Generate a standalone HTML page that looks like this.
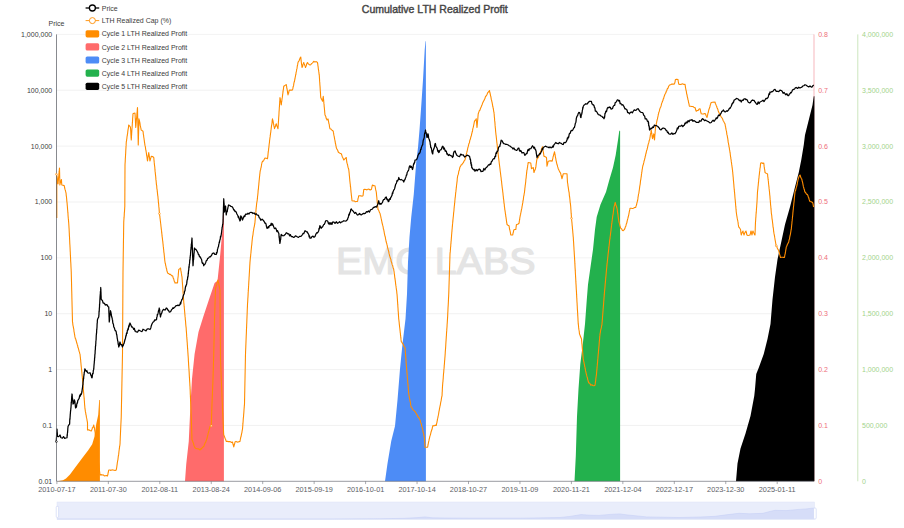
<!DOCTYPE html>
<html><head><meta charset="utf-8"><title>Cumulative LTH Realized Profit</title>
<style>html,body{margin:0;padding:0;background:#fff;}body{width:904px;height:528px;overflow:hidden;}svg{display:block;font-family:"Liberation Sans",sans-serif;}</style>
</head><body>
<svg width="904" height="528" viewBox="0 0 904 528">
<rect width="904" height="528" fill="#fff"/>
<line x1="56.5" x2="814.0" y1="34.40" y2="34.40" stroke="#e9e9e9" stroke-width="0.6"/>
<line x1="56.5" x2="814.0" y1="90.26" y2="90.26" stroke="#e9e9e9" stroke-width="0.6"/>
<line x1="56.5" x2="814.0" y1="146.12" y2="146.12" stroke="#e9e9e9" stroke-width="0.6"/>
<line x1="56.5" x2="814.0" y1="201.99" y2="201.99" stroke="#e9e9e9" stroke-width="0.6"/>
<line x1="56.5" x2="814.0" y1="257.85" y2="257.85" stroke="#e9e9e9" stroke-width="0.6"/>
<line x1="56.5" x2="814.0" y1="313.71" y2="313.71" stroke="#e9e9e9" stroke-width="0.6"/>
<line x1="56.5" x2="814.0" y1="369.57" y2="369.57" stroke="#e9e9e9" stroke-width="0.6"/>
<line x1="56.5" x2="814.0" y1="425.44" y2="425.44" stroke="#e9e9e9" stroke-width="0.6"/>
<text x="435.8" y="273.6" text-anchor="middle" font-size="37.2" fill="#e4e4e4" stroke="#e4e4e4" stroke-width="1.2" stroke-linejoin="round" textLength="199.5" lengthAdjust="spacingAndGlyphs">EMC LABS</text>
<line x1="814.0" x2="814.0" y1="34.4" y2="481.3" stroke="#f29aa2" stroke-width="0.7"/>
<line x1="857.8" x2="857.8" y1="34.4" y2="481.3" stroke="#b0d99a" stroke-width="0.65"/>
<polygon points="57.00,481.30 63.00,480.20 66.00,478.50 70.00,474.40 76.10,466.30 82.10,458.30 88.20,450.30 92.20,444.30 94.60,436.20 96.20,424.20 98.20,415.00 99.20,400.00 99.90,400.00 99.90,481.30" fill="#ff8c00"/>
<polygon points="185.00,481.30 186.25,464.00 188.75,441.50 190.50,404.00 192.00,379.00 194.60,354.00 198.50,332.00 203.20,317.00 209.00,299.50 214.60,283.00 217.50,280.75 220.00,257.00 222.50,229.50 223.50,200.00 223.90,200.00 223.90,481.30" fill="#ff6b6b"/>
<polygon points="385.00,481.30 387.50,463.50 391.25,441.00 395.00,426.00 397.50,400.00 400.00,369.00 402.50,344.00 405.50,319.00 407.00,294.00 408.00,262.00 409.50,237.00 411.25,217.00 413.75,194.50 416.25,162.00 418.00,147.50 419.50,130.00 421.30,105.00 423.00,80.00 424.70,50.00 425.50,41.25 425.90,41.25 425.90,481.30" fill="#4d8cf6"/>
<polygon points="574.50,481.30 575.80,456.00 577.00,416.50 578.50,389.00 580.30,364.00 582.80,344.00 585.00,324.00 586.80,299.50 588.00,284.50 590.50,267.00 593.00,249.50 595.00,229.50 596.70,217.00 600.50,204.50 606.00,192.00 609.30,180.00 613.00,167.50 615.70,155.00 618.00,140.00 619.30,130.75 620.10,130.75 620.10,481.30" fill="#23b14d"/>
<polygon points="736.00,481.30 737.50,463.50 740.50,448.50 745.50,433.50 750.50,416.00 754.25,396.00 755.00,389.00 756.25,374.00 758.75,367.75 763.75,354.00 767.50,339.00 770.50,324.00 772.50,299.50 775.00,277.00 777.50,259.50 781.25,242.00 785.00,224.50 790.00,207.00 793.75,192.00 795.50,185.00 798.75,172.50 801.25,160.00 803.75,145.00 805.00,135.00 807.50,125.00 810.00,115.00 812.50,105.00 813.75,96.25 814.40,96.25 814.40,481.30" fill="#000"/>
<polyline points="56.80,218.00 56.80,216.79 56.80,215.59 56.80,215.13 56.80,213.48 56.80,212.98 56.80,211.78 56.80,210.43 56.80,209.92 56.80,208.39 56.80,207.81 56.80,206.40 56.80,205.41 56.80,204.77 56.80,204.20 56.80,202.41 56.80,201.51 56.80,200.94 56.80,200.28 56.80,198.86 56.80,197.65 56.80,197.28 56.80,195.25 56.80,195.13 56.80,193.49 56.80,192.32 56.80,191.28 56.80,190.48 56.80,190.02 56.80,188.31 56.80,187.74 56.80,186.79 56.80,185.49 56.80,184.67 56.80,183.12 56.80,182.11 56.80,181.26 56.80,180.77 56.80,179.48 56.80,178.34 56.80,177.63 56.80,176.47 56.80,175.29 56.80,174.50 56.93,175.88 57.07,176.83 57.20,177.39 57.33,178.80 57.47,179.81 57.60,181.25 57.73,182.14 57.87,182.71 58.00,184.00 58.09,183.53 58.19,181.58 58.28,180.91 58.38,180.28 58.47,178.62 58.56,177.99 58.66,176.49 58.75,176.19 58.84,175.29 58.94,174.08 59.03,173.41 59.12,171.80 59.22,171.21 59.31,170.10 59.41,169.09 59.50,168.00 59.52,168.95 59.55,170.37 59.57,171.49 59.59,171.97 59.62,173.18 59.64,173.52 59.66,175.22 59.69,176.16 59.71,177.54 59.74,178.35 59.76,178.76 59.78,179.87 59.81,181.19 59.83,181.47 59.85,182.96 59.88,183.63 59.90,185.00 60.20,183.48 60.50,182.31 60.80,182.00 61.10,180.19 61.40,179.50 61.48,180.32 61.56,181.58 61.64,183.21 61.72,183.44 61.80,185.00 63.00,185.24 64.20,185.60 64.44,186.64 64.67,188.00 64.91,188.91 65.15,189.95 65.39,190.29 65.62,191.43 65.86,192.36 66.10,193.50 66.20,194.95 66.30,196.05 66.40,196.19 66.50,197.24 66.60,198.32 66.70,199.35 66.80,200.64 66.90,201.78 67.00,202.45 67.10,203.19 67.20,204.66 67.30,205.63 67.40,206.80 67.48,207.87 67.56,209.30 67.64,210.01 67.72,210.82 67.79,211.93 67.87,212.99 67.95,213.31 68.03,215.24 68.11,216.11 68.19,217.21 68.27,218.13 68.35,218.68 68.43,219.69 68.51,220.36 68.58,221.95 68.66,222.32 68.74,223.32 68.82,224.48 68.90,225.80 68.95,226.44 69.00,227.64 69.06,228.34 69.11,229.29 69.16,230.46 69.21,231.42 69.27,232.72 69.32,233.35 69.37,235.30 69.42,236.02 69.48,236.52 69.53,237.64 69.58,238.76 69.63,239.78 69.69,240.53 69.74,242.34 69.79,243.50 69.84,243.93 69.90,244.96 69.95,245.53 70.00,247.00 70.05,247.56 70.10,248.83 70.15,249.74 70.20,251.36 70.25,251.63 70.30,252.48 70.35,254.50 70.40,255.03 70.45,255.61 70.50,257.05 70.55,257.48 70.60,259.03 70.65,260.53 70.70,261.40 70.75,262.22 70.80,262.74 70.85,263.85 70.90,264.63 70.95,266.30 71.00,267.04 71.05,268.31 71.10,268.81 71.15,269.70 71.20,271.34 71.25,272.00 71.28,273.53 71.30,274.39 71.33,275.34 71.35,276.35 71.38,277.26 71.40,277.70 71.42,279.02 71.45,279.84 71.47,280.48 71.50,281.48 71.53,282.76 71.55,283.74 71.58,285.21 71.60,286.50 71.62,286.94 71.65,288.48 71.67,289.54 71.70,290.50 71.72,290.85 71.75,291.69 71.78,292.70 71.80,293.67 71.83,294.67 71.85,296.14 71.88,297.44 71.90,298.37 71.92,298.98 71.95,300.17 71.97,301.33 72.00,301.54 72.03,303.18 72.05,304.45 72.08,305.31 72.10,306.28 72.12,306.98 72.15,307.65 72.17,309.32 72.20,309.82 72.22,311.33 72.25,312.52 72.28,312.89 72.30,313.89 72.33,315.49 72.35,316.25 72.38,316.64 72.40,317.59 72.42,318.62 72.45,320.45 72.47,321.34 72.50,322.00 72.67,322.61 72.83,324.36 73.00,325.53 73.17,326.17 73.33,326.84 73.50,328.05 73.67,328.59 73.83,329.47 74.00,331.52 74.17,332.16 74.33,333.03 74.50,334.48 74.67,334.93 74.83,336.41 75.00,337.00 75.29,338.36 75.59,338.68 75.88,339.73 76.18,340.77 76.47,341.71 76.76,343.10 77.06,343.74 77.35,344.91 77.65,345.59 77.94,347.45 78.24,347.84 78.53,348.95 78.82,350.09 79.12,351.44 79.41,351.91 79.71,353.46 80.00,354.00 80.10,355.00 80.20,356.04 80.30,357.03 80.40,357.47 80.50,358.93 80.60,359.65 80.70,360.45 80.80,362.33 80.90,362.64 81.00,363.97 81.10,365.25 81.20,366.06 81.30,366.81 81.40,368.02 81.50,369.06 81.60,370.31 81.70,370.57 81.80,372.07 81.90,372.72 82.00,373.75 82.10,375.30 82.20,376.01 82.30,377.07 82.40,378.29 82.50,379.00 82.58,380.45 82.67,380.94 82.75,382.12 82.83,383.01 82.92,384.01 83.00,385.21 83.08,385.95 83.17,387.04 83.25,387.98 83.33,389.49 83.42,390.22 83.50,391.41 83.58,392.49 83.67,392.74 83.75,394.07 83.83,395.49 83.92,396.37 84.00,396.60 84.08,397.58 84.17,398.94 84.25,399.53 84.33,400.71 84.42,401.53 84.50,403.19 84.58,404.31 84.67,405.44 84.75,405.62 84.83,407.24 84.92,408.18 85.00,409.00 85.18,409.59 85.36,411.39 85.54,412.47 85.71,412.63 85.89,414.43 86.07,414.80 86.25,415.89 86.43,417.42 86.61,418.24 86.79,418.48 86.96,419.77 87.14,420.85 87.32,421.64 87.50,422.80 87.50,423.49 87.50,424.66 87.50,426.13 87.50,426.39 87.50,428.00 87.50,428.91 87.50,430.00 88.75,429.80 90.00,430.48 91.25,431.00 91.67,430.14 92.08,429.01 92.50,427.52 92.92,427.53 93.33,426.32 93.75,425.00 93.96,426.60 94.17,426.73 94.38,427.99 94.58,428.83 94.79,430.72 95.00,431.50 95.11,432.28 95.22,433.15 95.33,434.50 95.44,436.06 95.56,436.99 95.67,437.40 95.78,438.31 95.89,440.18 96.00,440.83 96.11,442.00 96.22,442.35 96.33,443.35 96.44,445.07 96.56,445.81 96.67,446.45 96.78,448.43 96.89,449.12 97.00,450.00 97.12,451.33 97.24,451.54 97.36,453.39 97.48,453.52 97.60,455.40 97.72,455.95 97.84,456.82 97.96,458.06 98.08,459.47 98.20,459.74 98.32,460.59 98.44,462.03 98.56,462.71 98.68,463.57 98.80,464.63 98.92,465.51 99.04,466.67 99.16,467.79 99.28,468.79 99.40,470.29 99.52,470.77 99.64,472.00 99.76,472.65 99.88,473.83 100.00,475.00 101.07,474.61 102.14,475.01 103.21,474.90 104.29,475.83 105.36,475.77 106.43,475.52 107.50,476.00 107.71,474.97 107.92,474.48 108.12,472.57 108.33,472.35 108.54,470.93 108.75,470.00 109.82,469.99 110.89,470.37 111.96,469.88 113.04,470.01 114.11,470.21 115.18,470.53 116.25,470.00 116.41,468.83 116.57,468.37 116.73,467.23 116.89,466.15 117.05,464.90 117.20,463.83 117.36,462.51 117.52,461.59 117.68,460.53 117.84,460.26 118.00,459.00 118.13,457.73 118.27,456.63 118.40,455.54 118.53,455.38 118.67,454.41 118.80,453.19 118.93,451.76 119.07,450.72 119.20,449.77 119.33,448.96 119.47,447.62 119.60,446.94 119.73,445.74 119.87,445.51 120.00,444.00 120.05,443.50 120.09,442.01 120.14,440.66 120.19,440.44 120.23,438.70 120.28,437.73 120.32,436.32 120.37,435.72 120.42,434.81 120.46,433.82 120.51,432.47 120.56,431.78 120.60,430.21 120.65,429.48 120.69,428.27 120.74,427.59 120.79,426.18 120.83,425.14 120.88,424.43 120.93,423.34 120.97,422.71 121.02,421.62 121.06,420.85 121.11,419.73 121.16,418.77 121.20,417.94 121.25,416.50 121.27,415.36 121.29,414.28 121.31,413.99 121.33,412.06 121.35,411.68 121.37,410.58 121.39,408.90 121.41,408.76 121.43,407.81 121.45,406.50 121.47,405.61 121.49,404.68 121.51,402.93 121.53,402.34 121.55,401.30 121.57,400.65 121.59,399.61 121.61,398.62 121.64,397.34 121.66,396.66 121.68,395.42 121.70,394.42 121.72,392.89 121.74,391.66 121.76,390.76 121.78,390.00 121.80,388.70 121.82,388.49 121.84,387.17 121.86,386.24 121.88,385.22 121.90,384.27 121.92,383.04 121.94,381.49 121.96,381.35 121.98,380.29 122.00,379.00 122.02,378.00 122.04,377.04 122.06,376.18 122.08,374.52 122.10,374.26 122.12,372.73 122.14,371.53 122.16,370.74 122.18,370.25 122.20,368.68 122.22,368.26 122.24,367.52 122.26,365.99 122.28,364.87 122.30,363.98 122.32,363.20 122.34,362.29 122.36,361.13 122.38,360.16 122.40,358.54 122.42,357.61 122.44,356.73 122.46,356.27 122.48,354.78 122.50,354.00 122.51,353.07 122.51,351.46 122.52,350.52 122.52,349.75 122.53,349.19 122.54,348.21 122.54,347.19 122.55,345.77 122.55,345.02 122.56,343.96 122.57,342.96 122.57,341.58 122.58,341.43 122.59,339.67 122.59,339.53 122.60,338.48 122.60,336.47 122.61,335.95 122.62,335.35 122.62,334.51 122.63,332.94 122.63,331.75 122.64,330.68 122.65,330.49 122.65,328.68 122.66,328.09 122.66,326.61 122.67,326.03 122.68,325.50 122.68,323.60 122.69,323.35 122.70,322.01 122.70,321.43 122.71,320.22 122.71,318.70 122.72,318.44 122.73,316.98 122.73,315.48 122.74,314.45 122.74,313.99 122.75,312.95 122.76,311.78 122.76,310.60 122.77,309.83 122.77,308.80 122.78,308.37 122.79,306.45 122.79,306.28 122.80,305.37 122.80,303.58 122.81,303.47 122.82,302.23 122.82,301.44 122.83,299.77 122.84,298.86 122.84,297.88 122.85,297.55 122.85,296.10 122.86,294.85 122.87,293.92 122.87,292.75 122.88,291.50 122.88,290.56 122.89,290.37 122.90,288.76 122.90,288.48 122.91,286.72 122.91,285.74 122.92,285.01 122.93,283.66 122.93,282.86 122.94,282.50 122.95,281.42 122.95,280.34 122.96,279.14 122.96,278.45 122.97,277.48 122.98,276.05 122.98,275.24 122.99,273.50 122.99,273.26 123.00,272.00 123.02,270.95 123.03,270.28 123.05,269.16 123.06,267.76 123.08,266.50 123.09,266.47 123.11,264.59 123.12,263.97 123.14,262.83 123.15,261.78 123.17,261.26 123.18,260.52 123.19,258.74 123.21,258.17 123.22,256.78 123.24,256.06 123.25,254.88 123.27,253.63 123.28,252.63 123.30,251.68 123.31,251.45 123.33,250.00 123.34,248.69 123.36,248.45 123.38,247.55 123.39,245.94 123.41,244.60 123.42,243.66 123.44,242.55 123.45,241.83 123.47,240.55 123.48,239.71 123.50,238.73 123.51,238.08 123.53,237.43 123.54,236.27 123.56,234.90 123.57,233.91 123.58,233.03 123.60,231.86 123.61,230.82 123.63,229.52 123.64,228.76 123.66,228.51 123.67,226.59 123.69,226.00 123.70,225.14 123.72,224.40 123.73,222.69 123.75,222.00 123.82,220.73 123.89,219.70 123.96,218.85 124.03,217.89 124.10,217.43 124.17,216.30 124.24,215.32 124.31,213.37 124.38,212.37 124.45,212.10 124.52,211.29 124.59,209.81 124.66,208.92 124.73,207.26 124.80,206.80 124.80,205.66 124.81,205.23 124.81,204.10 124.82,203.11 124.82,202.22 124.83,200.41 124.83,199.23 124.84,198.26 124.84,197.65 124.85,196.81 124.85,196.07 124.86,194.81 124.86,193.71 124.87,192.82 124.87,191.46 124.88,190.54 124.88,188.96 124.89,188.76 124.89,187.14 124.90,186.87 124.90,185.55 124.91,184.15 124.91,182.94 124.92,182.06 124.92,181.46 124.93,180.51 124.93,178.85 124.94,177.78 124.94,177.26 124.95,176.31 124.95,175.07 124.96,173.87 124.96,173.27 124.97,171.60 124.97,170.90 124.98,170.05 124.98,169.58 124.99,168.22 124.99,167.46 125.00,165.99 125.00,165.00 125.06,163.69 125.11,162.68 125.17,162.44 125.23,161.13 125.28,159.67 125.34,158.34 125.40,157.84 125.45,157.01 125.51,155.71 125.57,154.51 125.62,153.93 125.68,153.19 125.74,151.40 125.80,150.17 125.85,149.48 125.91,148.55 125.97,147.81 126.02,146.26 126.08,145.89 126.14,144.81 126.19,143.53 126.25,142.50 126.40,141.15 126.54,140.96 126.69,139.20 126.84,138.73 126.99,137.06 127.13,136.02 127.28,135.58 127.43,134.04 127.57,133.73 127.72,132.20 127.87,130.83 128.01,129.84 128.16,129.03 128.31,128.27 128.46,127.55 128.60,125.64 128.75,125.00 129.33,125.72 129.92,126.35 130.50,127.50 130.56,129.06 130.62,129.19 130.69,130.13 130.75,131.18 130.81,132.59 130.88,134.19 130.94,135.21 131.00,136.09 131.06,137.42 131.12,138.39 131.19,138.77 131.25,140.00 131.32,138.64 131.38,138.46 131.45,137.24 131.52,135.45 131.59,135.13 131.65,133.81 131.72,132.79 131.79,131.74 131.86,130.55 131.92,129.36 131.99,128.65 132.06,127.72 132.12,127.38 132.19,125.45 132.26,125.37 132.33,123.52 132.39,122.68 132.46,122.18 132.53,121.17 132.60,119.73 132.66,118.30 132.73,117.76 132.80,116.64 132.87,116.23 132.93,114.42 133.00,113.75 134.00,113.23 135.00,113.00 135.05,114.47 135.11,114.55 135.16,116.01 135.21,117.49 135.27,118.47 135.32,118.71 135.38,119.74 135.43,120.80 135.48,122.78 135.54,123.09 135.59,124.66 135.64,125.87 135.70,126.29 135.75,127.50 135.84,126.25 135.93,126.00 136.01,124.63 136.10,123.24 136.19,122.74 136.28,121.30 136.36,120.25 136.45,118.95 136.54,118.78 136.62,117.96 136.71,116.65 136.80,115.99 136.89,113.98 136.97,113.21 137.06,112.47 137.15,112.00 137.24,111.00 137.32,109.38 137.41,108.23 137.50,107.50 137.52,108.44 137.54,109.52 137.56,111.01 137.58,111.21 137.60,112.90 137.62,113.84 137.64,114.95 137.66,115.91 137.68,116.74 137.70,117.45 137.72,118.45 137.74,119.51 137.76,120.99 137.78,121.23 137.80,122.37 137.82,123.99 137.84,124.45 137.86,125.26 137.89,126.24 137.91,127.83 137.93,128.59 137.95,130.33 137.97,131.23 137.99,132.36 138.01,132.58 138.03,133.39 138.05,134.42 138.07,135.88 138.09,137.12 138.11,137.85 138.13,138.63 138.15,139.84 138.17,141.08 138.19,142.15 138.21,143.25 138.23,144.37 138.25,145.00 138.28,144.17 138.31,142.56 138.34,142.35 138.37,140.73 138.39,140.03 138.42,138.80 138.45,138.19 138.48,136.59 138.51,135.64 138.54,134.62 138.57,133.51 138.60,133.31 138.62,131.96 138.65,130.67 138.68,129.74 138.71,129.39 138.74,127.84 138.77,126.53 138.80,126.16 138.83,124.98 138.86,124.34 138.88,122.35 138.91,121.75 138.94,121.12 138.97,120.13 139.00,118.75 139.20,120.23 139.41,120.29 139.61,121.59 139.82,122.42 140.02,123.52 140.23,125.41 140.43,126.00 140.64,127.41 140.84,127.81 141.05,129.38 141.25,130.00 142.12,130.57 143.00,131.25 143.14,132.01 143.27,133.60 143.41,134.81 143.55,134.91 143.68,136.47 143.82,137.52 143.95,138.10 144.09,139.29 144.23,140.06 144.36,141.15 144.50,142.50 144.68,143.23 144.85,144.61 145.03,145.67 145.20,146.17 145.38,146.96 145.55,148.31 145.72,149.70 145.90,150.15 146.07,151.29 146.25,152.50 146.41,153.24 146.56,154.95 146.72,155.74 146.88,156.27 147.03,157.37 147.19,158.76 147.34,159.99 147.50,161.00 147.66,160.09 147.81,158.43 147.97,157.44 148.12,156.96 148.28,155.59 148.44,154.39 148.59,153.35 148.75,152.50 148.91,154.06 149.06,154.42 149.22,155.76 149.38,156.59 149.53,157.72 149.69,159.28 149.84,160.48 150.00,161.00 150.31,159.66 150.62,158.29 150.94,157.69 151.25,156.25 152.50,156.55 153.75,157.50 153.86,158.03 153.96,160.08 154.07,160.63 154.18,162.14 154.29,162.75 154.39,164.35 154.50,165.00 154.60,165.99 154.71,166.69 154.81,167.55 154.91,169.17 155.01,170.30 155.12,171.63 155.22,171.75 155.32,173.37 155.43,174.12 155.53,175.30 155.63,175.93 155.74,177.11 155.84,178.41 155.94,179.88 156.04,180.01 156.15,181.46 156.25,182.50 156.37,183.84 156.48,185.01 156.60,185.17 156.72,186.09 156.83,187.99 156.95,189.02 157.07,189.48 157.18,190.01 157.30,191.97 157.42,192.38 157.53,193.94 157.65,194.63 157.77,195.86 157.88,196.13 158.00,197.50 158.09,198.83 158.19,199.23 158.28,200.44 158.38,201.94 158.47,202.94 158.56,203.25 158.66,204.30 158.75,205.51 158.84,206.66 158.94,207.53 159.03,208.26 159.12,209.41 159.22,210.95 159.31,212.16 159.41,212.23 159.50,213.75 159.62,214.85 159.75,216.10 159.88,216.34 160.00,218.25 160.12,218.49 160.25,220.05 160.38,221.02 160.50,222.00 160.62,223.17 160.74,223.85 160.85,225.00 160.97,226.21 161.09,227.07 161.21,228.35 161.32,229.15 161.44,230.17 161.56,230.74 161.68,232.42 161.79,233.31 161.91,234.06 162.03,235.67 162.15,236.72 162.26,237.40 162.38,238.12 162.50,239.50 162.61,240.49 162.73,241.11 162.84,242.16 162.95,243.51 163.07,244.16 163.18,245.57 163.30,246.67 163.41,247.18 163.52,248.85 163.64,249.27 163.75,251.01 163.86,252.08 163.98,252.81 164.09,253.33 164.20,254.85 164.32,255.73 164.43,257.38 164.55,257.51 164.66,259.32 164.77,260.50 164.89,261.23 165.00,262.00 165.23,263.35 165.45,263.66 165.68,265.53 165.91,265.99 166.14,267.50 166.36,268.46 166.59,268.63 166.82,270.32 167.05,271.47 167.27,271.52 167.50,273.00 168.50,273.39 169.50,274.38 170.50,274.27 171.50,275.64 172.50,275.75 172.86,276.54 173.21,278.17 173.57,278.47 173.93,279.90 174.29,281.39 174.64,281.64 175.00,283.00 176.25,282.74 177.50,283.00 177.60,281.97 177.69,280.72 177.79,279.38 177.88,278.50 177.98,277.44 178.08,277.25 178.17,275.93 178.27,275.13 178.37,273.29 178.46,272.93 178.56,271.15 178.65,270.57 178.75,269.50 179.62,268.90 180.50,268.00 180.67,268.85 180.83,270.41 181.00,271.06 181.17,272.09 181.33,273.42 181.50,273.57 181.67,275.54 181.83,276.14 182.00,277.00 182.07,277.88 182.14,279.33 182.21,279.74 182.28,281.54 182.35,282.09 182.42,282.85 182.49,284.29 182.56,284.94 182.63,285.64 182.70,287.27 182.77,287.50 182.84,289.35 182.91,289.73 182.98,291.15 183.05,292.53 183.12,293.09 183.19,294.18 183.26,294.79 183.33,295.45 183.40,296.49 183.47,297.61 183.54,299.13 183.61,299.93 183.68,301.01 183.75,302.00 183.84,303.45 183.94,303.63 184.03,304.76 184.12,306.24 184.21,306.57 184.31,307.56 184.40,308.97 184.49,309.72 184.58,311.01 184.68,311.88 184.77,313.30 184.86,314.32 184.95,314.92 185.05,316.40 185.14,317.25 185.23,317.89 185.32,319.80 185.42,320.05 185.51,320.97 185.60,321.93 185.69,323.54 185.79,324.82 185.88,325.74 185.97,326.34 186.06,327.20 186.16,327.94 186.25,329.50 186.32,330.68 186.40,331.61 186.47,332.40 186.54,333.74 186.61,334.54 186.69,336.11 186.76,336.90 186.83,337.39 186.91,339.13 186.98,339.21 187.05,340.76 187.12,341.65 187.20,342.48 187.27,343.31 187.34,345.12 187.42,345.30 187.49,346.91 187.56,348.36 187.64,348.50 187.71,349.59 187.78,351.06 187.85,351.97 187.93,353.13 188.00,354.00 188.06,355.36 188.12,355.67 188.19,356.84 188.25,357.84 188.31,358.58 188.38,360.52 188.44,361.42 188.50,362.36 188.56,362.60 188.62,364.54 188.69,365.44 188.75,366.15 188.81,367.47 188.88,368.17 188.94,368.93 189.00,369.82 189.06,370.97 189.12,371.77 189.19,373.12 189.25,374.59 189.31,375.54 189.38,376.72 189.44,377.59 189.50,378.12 189.56,379.45 189.62,380.34 189.69,381.74 189.75,382.46 189.81,383.19 189.88,384.62 189.94,386.00 190.00,386.50 190.04,387.19 190.08,388.92 190.12,388.97 190.17,390.24 190.21,391.21 190.25,392.77 190.29,393.99 190.33,394.77 190.38,395.31 190.42,396.92 190.46,397.31 190.50,398.21 190.54,399.95 190.58,400.64 190.62,401.71 190.67,402.68 190.71,404.03 190.75,404.47 190.79,405.87 190.83,406.72 190.88,407.89 190.92,408.43 190.96,409.75 191.00,410.58 191.04,411.29 191.08,412.18 191.12,413.63 191.17,414.04 191.21,415.95 191.25,416.50 191.28,417.13 191.32,418.02 191.35,419.13 191.38,421.06 191.41,421.44 191.45,422.24 191.48,423.13 191.51,424.17 191.54,425.91 191.58,426.86 191.61,427.96 191.64,429.02 191.67,429.30 191.71,430.90 191.74,431.68 191.77,433.20 191.80,434.22 191.84,435.32 191.87,435.44 191.90,437.34 191.93,438.41 191.97,439.47 192.00,440.00 192.38,440.54 192.75,441.61 193.12,442.48 193.50,443.36 193.88,445.23 194.25,446.16 194.62,446.93 195.00,447.75 196.00,448.56 197.00,448.79 198.00,448.87 199.00,449.11 200.00,450.00 200.75,448.86 201.50,448.88 202.25,447.58 203.00,447.00 203.75,446.50 204.14,445.49 204.54,444.12 204.93,443.45 205.32,442.55 205.71,442.09 206.11,440.78 206.50,440.00 206.77,438.76 207.04,438.43 207.31,436.89 207.58,436.23 207.85,434.94 208.12,433.25 208.38,432.63 208.65,431.62 208.92,430.95 209.19,429.45 209.46,428.80 209.73,427.58 210.00,426.50 211.25,425.50 211.29,424.16 211.32,423.85 211.36,421.98 211.39,421.76 211.43,420.02 211.46,418.81 211.50,418.01 211.54,417.60 211.57,416.81 211.61,414.72 211.64,414.23 211.68,413.20 211.71,412.52 211.75,410.82 211.79,410.14 211.82,408.95 211.86,408.46 211.89,406.81 211.93,406.54 211.96,404.79 212.00,404.00 212.04,402.69 212.08,402.22 212.12,401.00 212.16,399.57 212.20,399.15 212.24,397.54 212.28,397.32 212.32,396.22 212.36,395.32 212.40,394.14 212.44,392.84 212.48,391.89 212.52,390.88 212.56,390.43 212.60,388.54 212.64,388.43 212.68,386.48 212.72,385.68 212.76,384.74 212.80,384.44 212.84,383.00 212.88,381.87 212.92,381.42 212.96,379.71 213.00,379.00 213.03,377.96 213.06,377.03 213.09,376.28 213.12,375.28 213.15,374.16 213.18,372.83 213.21,371.81 213.24,370.62 213.27,370.38 213.30,369.18 213.33,368.27 213.36,366.64 213.39,365.93 213.42,365.30 213.45,364.09 213.48,362.59 213.51,361.96 213.54,361.42 213.57,359.71 213.60,358.66 213.63,357.78 213.66,357.22 213.69,356.38 213.72,354.62 213.75,354.00 213.77,352.62 213.79,351.72 213.82,350.81 213.84,350.02 213.86,348.63 213.88,347.81 213.90,346.66 213.93,346.52 213.95,345.25 213.97,343.56 213.99,343.51 214.01,341.56 214.04,340.87 214.06,340.53 214.08,339.32 214.10,338.26 214.12,336.93 214.15,335.67 214.17,335.15 214.19,333.57 214.21,332.68 214.24,331.88 214.26,330.49 214.28,329.89 214.30,329.32 214.32,328.21 214.35,327.00 214.37,326.15 214.39,324.96 214.41,323.61 214.43,323.11 214.46,321.90 214.48,321.27 214.50,320.00 214.53,319.43 214.56,317.89 214.60,317.03 214.63,316.21 214.66,314.83 214.69,313.60 214.73,313.13 214.76,312.29 214.79,311.16 214.82,310.06 214.85,309.21 214.89,308.00 214.92,306.95 214.95,305.72 214.98,304.55 215.02,303.88 215.05,302.28 215.08,301.62 215.11,301.00 215.15,299.91 215.18,298.80 215.21,297.37 215.24,296.54 215.27,295.56 215.31,294.73 215.34,293.48 215.37,292.76 215.40,292.02 215.44,290.18 215.47,289.69 215.50,288.50 215.81,287.74 216.12,286.25 216.44,285.30 216.75,284.77 217.06,282.68 217.38,282.17 217.69,280.69 218.00,280.00 218.20,281.31 218.40,282.48 218.60,283.02 218.80,283.56 219.00,285.08 219.20,286.05 219.40,287.24 219.60,288.01 219.80,289.15 220.00,290.00 220.01,291.36 220.01,292.02 220.02,292.90 220.03,294.49 220.04,294.68 220.04,296.20 220.05,296.88 220.06,298.29 220.06,298.58 220.07,300.53 220.08,300.84 220.09,301.51 220.09,302.75 220.10,303.89 220.11,304.46 220.11,305.91 220.12,306.91 220.13,308.22 220.14,308.84 220.14,309.74 220.15,310.70 220.16,312.27 220.16,313.48 220.17,314.03 220.18,314.69 220.19,316.33 220.19,316.88 220.20,317.68 220.21,318.59 220.21,320.30 220.22,321.34 220.23,322.15 220.24,322.97 220.24,324.07 220.25,324.70 220.26,326.51 220.26,326.84 220.27,328.15 220.28,329.35 220.29,330.35 220.29,330.96 220.30,331.77 220.31,333.05 220.31,333.59 220.32,335.37 220.33,335.84 220.34,337.39 220.34,337.74 220.35,338.86 220.36,339.73 220.36,340.92 220.37,341.65 220.38,342.45 220.39,344.24 220.39,344.76 220.40,345.72 220.41,346.78 220.41,347.98 220.42,348.92 220.43,350.15 220.44,351.18 220.44,351.85 220.45,353.47 220.46,354.39 220.46,354.51 220.47,356.36 220.48,357.45 220.49,358.31 220.49,358.60 220.50,360.00 220.54,361.36 220.58,362.15 220.62,362.47 220.67,363.46 220.71,365.50 220.75,366.17 220.79,366.73 220.83,367.56 220.88,368.61 220.92,369.71 220.96,371.30 221.00,371.83 221.04,372.62 221.08,374.44 221.12,375.32 221.17,375.63 221.21,377.43 221.25,378.12 221.29,379.31 221.33,380.19 221.38,381.43 221.42,382.32 221.46,383.37 221.50,383.67 221.54,385.21 221.58,386.03 221.62,387.27 221.67,387.93 221.71,389.42 221.75,390.06 221.79,390.74 221.83,391.71 221.88,392.60 221.92,393.99 221.96,394.51 222.00,395.96 222.04,396.61 222.08,397.99 222.12,399.00 222.17,400.04 222.21,401.40 222.25,401.46 222.29,403.37 222.33,403.96 222.38,405.07 222.42,406.18 222.46,407.37 222.50,407.86 222.54,408.91 222.58,410.51 222.62,410.53 222.67,412.15 222.71,413.15 222.75,413.48 222.79,415.12 222.83,416.20 222.88,417.47 222.92,417.81 222.96,419.53 223.00,420.00 223.05,421.07 223.10,422.10 223.15,423.61 223.20,423.72 223.25,425.53 223.30,426.48 223.35,427.22 223.40,428.86 223.45,429.37 223.50,430.54 223.55,431.66 223.60,432.98 223.65,433.42 223.70,434.80 224.09,435.67 224.47,436.60 224.86,437.69 225.24,438.93 225.63,439.29 226.01,440.82 226.40,441.40 227.42,441.39 228.43,441.60 229.45,441.45 230.47,441.81 231.48,442.42 232.50,442.00 232.75,443.17 233.00,444.32 233.25,444.81 233.50,445.80 233.75,447.00 234.00,445.78 234.25,445.10 234.50,444.15 234.75,443.31 235.00,442.00 236.00,441.39 237.00,442.04 238.00,442.12 239.00,441.65 240.00,441.50 240.21,439.96 240.42,439.20 240.62,437.83 240.83,436.99 241.04,436.76 241.25,435.37 241.46,434.38 241.67,433.48 241.88,432.58 242.08,431.21 242.29,430.17 242.50,429.00 242.58,428.14 242.66,427.22 242.74,426.11 242.82,425.20 242.90,423.68 242.98,423.18 243.06,421.95 243.14,421.29 243.22,419.56 243.30,418.65 243.38,417.49 243.46,417.30 243.54,416.46 243.62,415.17 243.70,413.86 243.78,413.35 243.86,412.32 243.94,411.07 244.02,409.73 244.10,408.78 244.18,407.91 244.26,406.80 244.34,405.92 244.42,405.16 244.50,404.00 244.52,403.48 244.54,401.51 244.56,401.07 244.58,399.49 244.60,398.58 244.62,398.34 244.64,397.08 244.66,396.46 244.68,394.94 244.70,393.47 244.72,392.88 244.74,392.10 244.76,391.48 244.78,390.53 244.80,388.97 244.82,387.90 244.84,386.56 244.86,386.16 244.88,384.68 244.90,383.62 244.92,382.47 244.94,381.46 244.96,381.20 244.98,379.58 245.00,379.51 245.02,377.55 245.04,377.41 245.06,375.59 245.08,374.47 245.10,374.24 245.12,372.72 245.14,372.26 245.16,370.66 245.18,369.51 245.20,369.30 245.22,368.23 245.24,367.39 245.26,366.25 245.28,364.54 245.30,364.14 245.32,363.23 245.34,361.96 245.36,361.48 245.38,359.73 245.40,359.51 245.42,358.24 245.44,356.46 245.46,355.47 245.48,355.17 245.50,354.00 245.54,353.34 245.58,351.52 245.62,350.76 245.66,350.21 245.70,348.58 245.74,348.34 245.79,346.91 245.83,345.43 245.87,344.76 245.91,343.98 245.95,342.82 245.99,342.07 246.03,340.48 246.07,340.18 246.11,338.70 246.15,338.00 246.19,336.97 246.23,335.73 246.28,334.68 246.32,334.11 246.36,333.28 246.40,332.09 246.44,330.84 246.48,329.53 246.52,328.26 246.56,328.26 246.60,326.95 246.64,326.07 246.68,324.52 246.72,323.81 246.77,323.21 246.81,322.04 246.85,320.77 246.89,319.44 246.93,318.56 246.97,318.06 247.01,316.49 247.05,315.82 247.09,314.71 247.13,314.03 247.17,312.92 247.21,311.33 247.26,310.01 247.30,309.29 247.34,308.46 247.38,307.63 247.42,306.87 247.46,305.94 247.50,304.50 247.56,302.98 247.62,302.84 247.68,301.81 247.74,300.86 247.80,299.52 247.86,298.18 247.92,297.80 247.98,296.74 248.04,295.60 248.10,294.84 248.15,293.20 248.21,291.90 248.27,291.40 248.33,290.66 248.39,288.99 248.45,288.58 248.51,287.77 248.57,285.99 248.63,285.39 248.69,284.46 248.75,283.21 248.81,281.92 248.87,280.96 248.93,280.49 248.99,279.52 249.05,278.15 249.11,276.73 249.17,276.50 249.23,275.45 249.29,273.85 249.35,273.22 249.40,272.56 249.46,271.53 249.52,270.12 249.58,269.06 249.64,268.17 249.70,266.72 249.76,265.71 249.82,264.68 249.88,264.24 249.94,262.86 250.00,262.00 250.10,261.07 250.20,259.89 250.30,259.02 250.40,257.61 250.50,256.50 250.60,256.55 250.70,254.86 250.80,253.57 250.90,253.15 251.00,252.32 251.10,250.62 251.20,250.11 251.30,248.83 251.40,248.02 251.50,246.47 251.60,245.49 251.70,245.54 251.80,244.40 251.90,242.98 252.00,242.07 252.10,240.74 252.20,240.31 252.30,238.92 252.40,238.49 252.50,237.00 252.67,236.29 252.83,235.35 253.00,234.51 253.17,232.73 253.33,231.49 253.50,230.67 253.67,229.65 253.83,228.54 254.00,227.51 254.17,227.06 254.33,226.41 254.50,224.95 254.67,224.49 254.83,223.45 255.00,222.00 255.08,220.52 255.17,220.11 255.25,218.89 255.33,217.58 255.42,217.51 255.50,215.73 255.58,215.07 255.67,214.15 255.75,213.50 255.83,212.19 255.92,210.88 256.00,209.94 256.08,208.63 256.17,208.51 256.25,207.00 256.39,206.49 256.53,204.58 256.67,203.33 256.81,202.51 256.94,201.56 257.08,201.11 257.22,200.06 257.36,198.93 257.50,197.50 257.60,196.00 257.70,195.82 257.80,194.73 257.90,193.66 258.00,193.03 258.10,191.01 258.20,190.11 258.30,189.78 258.40,188.98 258.50,187.69 258.60,186.28 258.70,185.60 258.80,184.78 258.90,183.07 259.00,182.31 259.10,181.23 259.20,180.09 259.30,179.48 259.40,178.14 259.50,177.21 259.60,176.11 259.70,175.70 259.80,173.96 259.90,173.74 260.00,172.50 260.20,171.16 260.40,169.99 260.60,169.97 260.80,168.19 261.00,167.98 261.20,166.90 261.40,165.93 261.60,164.10 261.80,163.44 262.00,162.50 262.60,161.16 263.20,161.17 263.80,160.18 264.40,159.04 265.00,158.00 266.25,158.32 267.50,158.75 267.62,157.56 267.74,157.08 267.86,155.69 267.98,154.84 268.10,153.30 268.21,152.37 268.33,151.18 268.45,150.89 268.57,149.70 268.69,148.24 268.81,148.03 268.93,146.35 269.05,145.50 269.17,144.20 269.29,143.32 269.40,142.93 269.52,141.37 269.64,140.17 269.76,139.51 269.88,138.31 270.00,137.50 270.14,136.90 270.28,134.99 270.42,134.90 270.56,132.85 270.69,132.73 270.83,131.44 270.97,129.89 271.11,129.14 271.25,127.89 271.39,126.82 271.53,125.71 271.67,124.85 271.81,124.50 271.94,123.46 272.08,122.34 272.22,120.39 272.36,119.56 272.50,118.75 272.70,120.19 272.90,120.26 273.10,122.00 273.30,122.52 273.50,124.28 273.70,124.22 273.90,126.09 274.10,126.57 274.30,127.35 274.50,128.75 274.85,127.20 275.20,127.12 275.55,125.78 275.90,124.40 276.25,123.75 276.60,124.68 276.95,126.20 277.30,126.44 277.65,127.83 278.00,128.75 278.06,127.34 278.13,126.38 278.19,126.02 278.26,124.95 278.32,123.38 278.39,122.24 278.45,121.24 278.52,120.80 278.58,119.67 278.65,118.42 278.71,117.34 278.77,116.78 278.84,115.87 278.90,114.98 278.97,113.72 279.03,112.29 279.10,111.14 279.16,110.86 279.23,109.50 279.29,108.83 279.35,107.09 279.42,106.91 279.48,105.38 279.55,104.93 279.61,103.95 279.68,102.53 279.74,101.00 279.81,100.98 279.87,99.49 279.94,98.92 280.00,97.50 280.18,98.31 280.36,99.30 280.54,101.08 280.71,101.64 280.89,102.49 281.07,103.79 281.25,105.00 281.39,104.06 281.53,102.37 281.67,101.90 281.81,100.77 281.94,99.81 282.08,98.33 282.22,97.94 282.36,97.01 282.50,96.03 282.64,94.39 282.78,93.77 282.92,92.37 283.06,91.73 283.19,89.93 283.33,89.79 283.47,88.83 283.61,87.29 283.75,86.25 284.58,85.68 285.42,85.12 286.25,84.50 286.43,85.59 286.60,86.07 286.77,88.16 286.95,88.40 287.12,89.40 287.30,90.36 287.48,91.58 287.65,93.25 287.82,93.43 288.00,95.00 288.30,93.56 288.60,93.22 288.90,91.66 289.20,90.47 289.50,90.00 290.50,90.11 291.50,90.08 292.50,90.00 292.73,89.00 292.95,88.18 293.18,86.49 293.41,86.32 293.64,85.13 293.86,83.36 294.09,82.43 294.32,81.81 294.55,80.80 294.77,79.53 295.00,78.75 295.19,77.32 295.38,76.61 295.56,75.30 295.75,74.79 295.94,74.07 296.12,72.27 296.31,71.72 296.50,70.90 296.69,69.24 296.88,68.95 297.06,68.06 297.25,66.44 297.44,65.46 297.62,64.90 297.81,63.54 298.00,62.50 298.46,61.47 298.92,61.15 299.38,60.05 299.83,58.66 300.29,57.63 300.75,57.00 300.88,57.87 301.00,59.03 301.12,60.68 301.25,61.53 301.38,62.70 301.50,63.65 301.62,64.73 301.75,64.91 301.88,66.47 302.00,67.50 302.35,67.00 302.70,65.98 303.05,64.22 303.40,63.41 303.75,62.50 304.10,63.65 304.45,64.35 304.80,65.53 305.15,66.03 305.50,67.50 305.90,66.43 306.30,65.51 306.70,63.97 307.10,63.10 307.50,62.50 308.33,63.85 309.17,64.47 310.00,65.00 310.75,64.73 311.50,63.65 312.25,63.09 313.00,62.42 313.75,61.25 315.00,62.09 316.25,61.57 317.50,62.50 317.65,63.70 317.79,64.33 317.94,65.82 318.08,66.42 318.23,67.75 318.38,69.22 318.52,69.93 318.67,70.56 318.81,71.90 318.96,72.84 319.10,74.45 319.25,75.00 319.32,75.79 319.39,76.83 319.45,78.23 319.52,78.67 319.59,80.22 319.66,81.64 319.73,82.17 319.80,82.93 319.86,84.17 319.93,85.26 320.00,85.86 320.07,86.86 320.14,87.89 320.20,89.09 320.27,90.24 320.34,91.13 320.41,92.10 320.48,92.96 320.55,94.48 320.61,95.83 320.68,96.60 320.75,97.50 321.19,98.51 321.62,99.54 322.06,99.98 322.50,101.25 322.65,100.48 322.80,99.21 322.95,98.30 323.10,97.37 323.25,96.25 323.35,97.26 323.44,98.12 323.54,99.09 323.64,100.11 323.74,101.47 323.83,102.37 323.93,103.64 324.03,104.05 324.12,105.46 324.22,107.06 324.32,107.42 324.42,108.81 324.51,109.78 324.61,110.60 324.71,112.41 324.81,112.69 324.90,114.26 325.00,115.00 325.40,115.62 325.80,116.52 326.20,118.41 326.60,118.93 327.00,120.00 328.00,119.00 328.22,119.60 328.44,121.04 328.67,122.18 328.89,123.59 329.11,123.99 329.33,125.20 329.56,127.09 329.78,127.93 330.00,128.75 330.81,128.99 331.62,129.82 332.44,130.46 333.25,131.25 333.44,132.46 333.62,133.41 333.81,134.68 334.00,135.67 334.19,136.35 334.38,137.61 334.56,138.63 334.75,139.66 334.94,140.36 335.12,141.72 335.31,142.65 335.50,143.89 335.69,144.04 335.88,145.88 336.06,145.94 336.25,147.50 336.75,148.79 337.25,149.59 337.75,150.50 338.25,152.01 338.75,152.50 340.00,153.20 341.25,153.75 341.67,154.70 342.08,156.15 342.50,157.29 342.92,158.03 343.33,158.83 343.75,160.00 344.58,159.11 345.42,158.29 346.25,157.50 346.38,158.87 346.50,159.52 346.62,160.75 346.75,162.00 347.04,163.13 347.32,164.02 347.61,165.02 347.89,166.60 348.18,167.74 348.46,168.43 348.75,169.50 348.85,170.48 348.96,171.24 349.06,172.41 349.17,173.28 349.27,174.79 349.38,175.84 349.48,176.34 349.58,178.30 349.69,178.68 349.79,180.29 349.90,181.33 350.00,182.00 350.11,183.55 350.22,183.76 350.33,185.04 350.44,186.62 350.56,186.67 350.67,187.75 350.78,189.36 350.89,190.33 351.00,191.84 351.11,192.72 351.22,193.50 351.33,195.05 351.44,195.56 351.56,196.60 351.67,197.83 351.78,198.55 351.89,199.55 352.00,200.75 353.10,201.00 354.20,200.89 355.30,201.69 356.40,201.54 357.50,201.50 357.75,200.38 358.00,198.76 358.25,197.91 358.50,196.79 358.75,195.75 359.81,195.82 360.88,195.83 361.94,196.17 363.00,195.75 363.12,195.22 363.25,193.65 363.38,192.56 363.50,191.72 363.62,191.09 363.75,189.50 364.82,189.33 365.89,189.53 366.96,189.85 368.04,189.14 369.11,189.30 370.18,190.03 371.25,189.50 371.56,188.73 371.88,187.26 372.19,185.70 372.50,185.00 373.75,185.81 375.00,185.75 375.21,187.00 375.42,188.19 375.62,189.41 375.83,190.34 376.04,190.87 376.25,192.00 376.35,192.65 376.46,193.83 376.56,195.10 376.66,196.12 376.76,196.80 376.87,197.83 376.97,199.35 377.07,200.35 377.18,201.10 377.28,202.84 377.38,203.47 377.49,203.85 377.59,205.28 377.69,206.73 377.79,207.23 377.90,208.68 378.00,209.50 378.50,209.89 379.00,211.16 379.50,212.69 380.00,213.25 380.23,214.37 380.45,215.48 380.68,215.98 380.91,217.34 381.14,218.42 381.36,219.13 381.59,220.57 381.82,221.47 382.05,223.00 382.27,223.56 382.50,224.50 382.72,225.43 382.94,226.14 383.16,227.21 383.38,228.90 383.60,229.21 383.82,230.24 384.04,231.34 384.26,232.76 384.49,234.12 384.71,234.92 384.93,236.16 385.15,236.37 385.37,237.35 385.59,239.21 385.81,239.75 386.03,241.21 386.25,242.00 386.50,242.84 386.75,243.64 387.00,244.74 387.25,245.56 387.50,247.44 387.75,248.09 388.00,248.83 388.25,249.94 388.50,250.87 388.75,251.51 389.00,253.43 389.25,254.09 389.50,255.51 389.75,255.93 390.00,257.00 390.29,258.09 390.58,258.65 390.87,259.38 391.15,261.32 391.44,262.20 391.73,262.57 392.02,264.17 392.31,265.04 392.60,265.44 392.88,266.73 393.17,268.08 393.46,268.53 393.75,269.50 393.89,271.02 394.02,271.26 394.16,272.44 394.29,273.82 394.43,274.30 394.56,275.42 394.70,277.06 394.83,277.65 394.97,279.01 395.10,279.43 395.24,280.37 395.38,281.59 395.51,282.43 395.65,284.31 395.78,284.58 395.92,285.90 396.05,286.43 396.19,287.91 396.32,288.77 396.46,289.81 396.59,290.46 396.73,291.54 396.86,293.34 397.00,294.00 397.07,294.84 397.14,295.72 397.21,296.66 397.28,297.76 397.35,298.71 397.42,299.49 397.49,301.18 397.56,301.83 397.63,302.62 397.70,304.23 397.77,304.55 397.84,305.75 397.91,307.37 397.98,307.59 398.05,308.94 398.12,310.37 398.19,311.34 398.26,311.63 398.33,312.84 398.40,314.24 398.47,314.86 398.54,316.50 398.61,316.68 398.68,318.50 398.75,319.00 398.86,320.03 398.98,320.75 399.09,322.02 399.20,322.68 399.32,324.34 399.43,324.87 399.55,326.60 399.66,327.28 399.77,328.06 399.89,328.95 400.00,330.37 400.11,330.96 400.23,332.71 400.34,332.90 400.45,334.36 400.57,335.41 400.68,336.13 400.80,337.71 400.91,338.31 401.02,339.63 401.14,340.55 401.25,341.50 401.79,342.18 402.32,343.16 402.86,343.72 403.39,344.72 403.93,346.35 404.46,346.66 405.00,347.75 405.08,348.94 405.16,349.35 405.23,350.87 405.31,351.66 405.39,352.83 405.47,353.62 405.55,354.38 405.62,355.67 405.70,356.59 405.78,357.49 405.86,359.16 405.94,359.70 406.02,360.85 406.09,362.42 406.17,363.29 406.25,364.00 406.33,365.42 406.42,366.40 406.50,366.60 406.58,367.75 406.67,368.48 406.75,370.20 406.83,371.18 406.92,371.84 407.00,372.90 407.08,374.17 407.17,375.22 407.25,375.72 407.33,377.38 407.42,377.84 407.50,379.14 407.58,379.65 407.67,380.58 407.75,382.45 407.83,383.26 407.92,384.23 408.00,384.49 408.08,385.49 408.17,386.63 408.25,387.67 408.33,388.78 408.42,389.87 408.50,390.49 408.58,391.79 408.67,393.15 408.75,394.00 408.94,394.69 409.13,396.45 409.33,397.19 409.52,398.39 409.71,398.92 409.90,400.16 410.10,401.47 410.29,402.14 410.48,402.80 410.67,404.75 410.87,405.73 411.06,406.23 411.25,407.50 411.96,407.85 412.68,409.60 413.39,410.19 414.11,410.43 414.82,411.50 415.54,412.22 416.25,413.50 416.79,414.71 417.32,414.97 417.86,416.63 418.39,417.35 418.93,417.51 419.46,419.07 420.00,419.75 420.28,420.61 420.56,421.97 420.83,423.03 421.11,423.40 421.39,424.16 421.67,426.07 421.94,426.47 422.22,428.00 422.50,428.50 422.70,429.71 422.90,430.76 423.10,431.86 423.30,432.64 423.50,433.45 423.70,434.01 423.90,435.72 424.10,436.42 424.30,437.51 424.50,438.50 424.56,440.06 424.62,440.28 424.69,442.07 424.75,442.37 424.81,444.19 424.88,445.40 424.94,445.89 425.00,447.25 426.25,447.30 427.50,447.25 427.73,446.74 427.95,445.36 428.18,444.23 428.41,442.88 428.64,441.65 428.86,440.96 429.09,439.99 429.32,438.74 429.55,437.84 429.77,436.62 430.00,436.00 430.30,435.18 430.60,434.09 430.90,432.56 431.20,431.52 431.50,430.77 431.80,429.64 432.10,429.13 432.40,427.44 432.70,426.33 433.00,425.50 434.08,425.92 435.17,425.11 436.25,425.50 436.46,424.53 436.67,423.23 436.88,422.72 437.08,421.39 437.29,420.58 437.50,418.89 437.71,418.39 437.92,417.28 438.12,416.08 438.33,415.38 438.54,414.41 438.75,413.00 438.94,411.58 439.13,410.77 439.32,409.85 439.51,408.68 439.71,407.52 439.90,406.76 440.09,405.67 440.28,405.22 440.47,403.94 440.66,402.57 440.85,401.81 441.04,400.97 441.24,399.85 441.43,398.63 441.62,397.53 441.81,396.46 442.00,396.00 442.06,395.49 442.11,394.16 442.17,392.38 442.22,392.02 442.28,391.25 442.33,389.74 442.39,388.18 442.44,387.54 442.50,386.50 442.58,385.43 442.67,384.16 442.75,383.55 442.83,381.96 442.92,381.96 443.00,380.66 443.08,379.64 443.17,378.98 443.25,377.67 443.33,376.23 443.42,375.22 443.50,374.10 443.58,372.98 443.67,372.80 443.75,371.87 443.83,370.28 443.92,369.15 444.00,368.65 444.08,367.88 444.17,366.97 444.25,365.14 444.33,364.81 444.42,363.86 444.50,362.77 444.58,361.31 444.67,360.15 444.75,359.86 444.83,358.30 444.92,357.36 445.00,356.50 445.07,355.54 445.14,354.33 445.20,353.82 445.27,352.16 445.34,350.93 445.41,350.49 445.47,349.55 445.54,348.74 445.61,347.60 445.68,346.81 445.74,345.84 445.81,344.33 445.88,343.32 445.95,341.93 446.01,341.08 446.08,340.37 446.15,338.81 446.22,338.46 446.28,336.87 446.35,336.17 446.42,335.73 446.49,333.75 446.55,332.68 446.62,332.11 446.69,330.82 446.76,330.39 446.82,328.59 446.89,328.50 446.96,327.50 447.03,326.41 447.09,325.00 447.16,323.83 447.23,323.23 447.30,322.06 447.36,320.94 447.43,319.84 447.50,319.00 447.55,317.93 447.60,317.18 447.65,316.36 447.70,315.44 447.75,313.63 447.80,312.78 447.85,311.94 447.90,311.07 447.95,309.83 448.00,308.66 448.05,307.54 448.10,306.81 448.15,305.96 448.20,305.52 448.25,304.45 448.30,303.40 448.35,302.52 448.40,301.51 448.45,300.13 448.50,299.34 448.55,297.52 448.60,297.19 448.65,296.12 448.70,294.78 448.75,294.00 448.78,293.07 448.81,292.47 448.85,290.94 448.88,290.11 448.91,288.72 448.94,287.75 448.97,287.33 449.01,285.38 449.04,284.54 449.07,284.07 449.10,282.80 449.13,281.39 449.17,281.01 449.20,279.68 449.23,278.90 449.26,277.70 449.29,276.82 449.33,275.84 449.36,274.64 449.39,273.32 449.42,272.38 449.46,272.15 449.49,270.76 449.52,269.27 449.55,269.08 449.58,267.40 449.62,266.21 449.65,265.67 449.68,264.35 449.71,263.60 449.74,262.66 449.78,261.29 449.81,260.66 449.84,259.14 449.87,258.57 449.90,257.64 449.94,256.06 449.97,255.41 450.00,254.50 450.08,253.03 450.17,252.43 450.25,251.90 450.33,250.56 450.42,249.74 450.50,248.78 450.58,247.08 450.67,247.04 450.75,245.74 450.83,244.06 450.92,243.86 451.00,242.38 451.08,241.14 451.17,241.01 451.25,239.57 451.33,238.80 451.42,237.10 451.50,236.80 451.58,235.01 451.67,234.21 451.75,233.36 451.83,231.97 451.92,231.60 452.00,230.18 452.08,229.28 452.17,228.73 452.25,227.42 452.33,226.93 452.42,225.63 452.50,224.50 452.60,223.91 452.70,222.57 452.80,221.96 452.90,220.91 453.00,219.13 453.10,218.77 453.20,217.33 453.30,216.79 453.40,215.70 453.50,214.86 453.60,213.08 453.70,212.36 453.80,211.76 453.90,210.99 454.00,209.74 454.10,208.00 454.20,207.61 454.30,206.06 454.40,205.55 454.50,204.83 454.60,203.07 454.70,202.97 454.80,201.69 454.90,200.23 455.00,199.50 455.11,198.14 455.23,197.40 455.34,196.80 455.45,195.50 455.57,193.96 455.68,192.84 455.80,191.91 455.91,191.65 456.02,189.95 456.14,189.33 456.25,188.02 456.36,187.43 456.48,186.07 456.59,184.79 456.70,184.57 456.82,183.18 456.93,182.32 457.05,181.43 457.16,180.56 457.27,178.51 457.39,177.85 457.50,177.00 457.75,175.62 458.00,175.00 458.25,174.41 458.50,173.33 458.75,171.49 459.00,170.65 459.25,170.35 459.50,169.20 459.75,167.88 460.00,167.00 460.62,166.10 461.25,164.87 461.88,164.75 462.50,163.38 463.12,163.04 463.75,161.87 464.38,160.41 465.00,160.00 465.24,158.83 465.47,157.72 465.71,157.49 465.94,156.17 466.18,154.59 466.41,153.74 466.65,152.97 466.89,152.11 467.12,151.25 467.36,150.06 467.59,149.04 467.83,147.67 468.06,147.32 468.30,146.25 468.59,145.04 468.88,143.68 469.17,143.14 469.46,142.69 469.75,140.64 470.05,139.72 470.34,139.28 470.63,137.82 470.92,136.80 471.21,136.02 471.50,135.00 471.71,133.76 471.93,133.11 472.14,132.08 472.36,131.57 472.57,130.63 472.79,128.59 473.00,128.19 473.21,127.44 473.43,126.57 473.64,125.48 473.86,124.34 474.07,123.36 474.29,122.08 474.50,121.25 475.08,120.18 475.67,119.91 476.25,118.75 476.34,120.25 476.44,121.42 476.53,122.23 476.62,122.91 476.72,124.51 476.81,125.58 476.91,126.42 477.00,127.50 477.10,126.59 477.19,125.22 477.29,124.38 477.38,123.17 477.48,121.73 477.58,120.97 477.67,119.90 477.77,119.58 477.87,117.96 477.96,116.78 478.06,115.58 478.15,114.52 478.25,113.75 478.67,112.61 479.08,111.40 479.50,110.29 479.92,110.27 480.33,108.84 480.75,107.86 481.17,107.02 481.58,105.75 482.00,105.00 482.42,103.66 482.83,102.58 483.25,101.86 483.67,100.90 484.08,100.39 484.50,99.22 484.92,98.68 485.33,97.05 485.75,96.25 486.38,95.76 487.00,94.43 487.62,92.91 488.25,92.06 488.88,91.55 489.50,90.50 489.72,92.09 489.94,92.45 490.17,93.97 490.39,94.64 490.61,96.18 490.83,96.36 491.06,97.87 491.28,99.38 491.50,100.00 491.71,100.80 491.92,101.82 492.12,102.60 492.33,103.80 492.54,104.95 492.75,106.47 492.96,106.98 493.17,108.22 493.38,109.05 493.58,110.53 493.79,111.86 494.00,112.50 494.09,113.66 494.18,114.17 494.26,115.76 494.35,117.01 494.44,117.61 494.52,118.04 494.61,119.84 494.70,120.91 494.79,121.33 494.88,122.10 494.96,123.16 495.05,124.54 495.14,125.91 495.23,126.65 495.31,127.97 495.40,128.18 495.49,129.31 495.57,130.77 495.66,131.66 495.75,132.50 495.86,133.42 495.98,134.74 496.09,135.39 496.20,136.10 496.32,137.52 496.43,138.14 496.55,139.80 496.66,140.50 496.77,141.70 496.89,142.83 497.00,143.48 497.11,144.73 497.23,145.26 497.34,147.29 497.45,147.91 497.57,149.40 497.68,149.40 497.80,151.03 497.91,152.18 498.02,152.77 498.14,153.53 498.25,155.00 498.38,155.62 498.50,156.61 498.62,158.29 498.75,158.55 498.88,160.35 499.00,160.92 499.12,162.04 499.25,163.10 499.38,164.06 499.50,165.17 499.62,166.11 499.75,166.81 499.88,168.27 500.00,168.73 500.12,170.23 500.25,171.29 500.38,172.30 500.50,172.79 500.62,174.30 500.75,175.00 500.87,176.53 500.99,176.95 501.10,177.76 501.22,179.03 501.34,180.49 501.46,180.60 501.57,181.46 501.69,182.97 501.81,184.17 501.93,185.30 502.04,185.85 502.16,187.54 502.28,187.70 502.40,189.28 502.51,189.55 502.63,190.48 502.75,192.00 502.87,192.60 502.98,193.52 503.10,195.00 503.22,196.06 503.33,196.65 503.45,198.48 503.57,198.85 503.68,199.61 503.80,200.65 503.92,202.26 504.03,203.46 504.15,203.63 504.27,204.48 504.38,206.31 504.50,207.00 504.65,207.75 504.79,209.59 504.94,210.09 505.09,211.27 505.24,211.98 505.38,213.51 505.53,214.16 505.68,215.04 505.82,216.71 505.97,216.86 506.12,218.58 506.26,218.87 506.41,220.54 506.56,221.30 506.71,222.84 506.85,222.99 507.00,224.50 508.00,225.20 509.00,225.75 509.20,226.65 509.40,228.21 509.60,229.24 509.80,229.89 510.00,230.75 510.19,231.51 510.38,232.60 510.56,233.68 510.75,235.00 511.75,234.93 512.75,235.00 512.95,233.70 513.15,232.67 513.35,232.29 513.55,231.16 513.75,230.00 514.75,229.53 515.75,229.50 515.90,229.04 516.05,227.19 516.20,226.58 516.35,225.12 516.50,224.50 517.75,224.27 519.00,223.25 519.17,222.61 519.33,220.91 519.50,220.40 519.67,219.44 519.83,217.80 520.00,217.00 520.20,215.81 520.40,214.98 520.60,214.43 520.80,212.63 521.00,212.20 521.20,211.11 521.40,209.95 521.60,209.09 521.80,208.42 522.00,207.00 522.17,205.68 522.33,205.42 522.50,203.85 522.67,203.31 522.83,202.40 523.00,200.65 523.17,200.40 523.33,199.54 523.50,197.78 523.67,196.48 523.83,195.57 524.00,195.52 524.17,193.46 524.33,193.45 524.50,192.00 524.61,190.62 524.73,190.26 524.84,188.56 524.95,187.64 525.07,187.20 525.18,185.55 525.30,184.82 525.41,184.46 525.52,183.24 525.64,182.42 525.75,181.53 525.86,179.49 525.98,178.71 526.09,178.32 526.20,177.21 526.32,175.49 526.43,175.01 526.55,173.70 526.66,172.92 526.77,171.57 526.89,170.47 527.00,170.00 527.18,169.47 527.36,167.66 527.54,167.20 527.71,165.30 527.89,164.63 528.07,163.17 528.25,162.50 529.50,162.67 530.75,163.00 530.90,163.80 531.05,165.50 531.20,166.06 531.35,167.86 531.50,168.75 532.38,168.13 533.25,167.50 533.40,168.07 533.55,169.34 533.70,170.50 533.85,171.96 534.00,172.50 534.35,171.33 534.70,170.19 535.05,170.01 535.40,168.92 535.75,167.50 535.91,166.66 536.06,165.06 536.22,163.86 536.38,162.87 536.53,161.56 536.69,160.44 536.84,159.85 537.00,158.75 538.25,157.50 538.67,156.36 539.08,155.48 539.50,154.22 539.92,152.79 540.33,152.50 540.75,151.25 541.19,150.29 541.62,149.05 542.06,147.93 542.50,146.75 542.67,148.01 542.83,149.39 543.00,150.33 543.17,151.21 543.33,151.92 543.50,152.88 543.67,154.05 543.83,155.71 544.00,156.25 545.25,156.75 546.50,157.50 546.56,158.47 546.62,159.59 546.69,160.39 546.75,162.42 546.81,162.42 546.88,164.18 546.94,165.63 547.00,166.25 547.25,164.98 547.50,164.37 547.75,163.11 548.00,161.96 548.25,161.25 549.50,160.92 550.75,160.83 552.00,161.25 552.28,160.57 552.56,159.45 552.83,158.53 553.11,156.53 553.39,156.19 553.67,154.72 553.94,154.02 554.22,152.86 554.50,151.75 554.70,152.62 554.90,154.42 555.10,154.43 555.30,156.32 555.50,157.51 555.70,158.21 555.90,159.38 556.10,160.89 556.30,161.13 556.50,162.50 556.79,163.68 557.08,164.85 557.38,165.49 557.67,166.90 557.96,167.59 558.25,168.75 558.75,169.78 559.25,170.87 559.75,171.94 560.25,172.55 560.75,173.75 561.00,174.89 561.25,175.80 561.50,176.45 561.75,177.87 562.00,178.75 562.25,177.49 562.50,177.20 562.75,175.72 563.00,174.99 563.25,173.75 564.50,173.77 565.75,173.72 567.00,173.75 567.06,174.54 567.12,175.54 567.19,177.50 567.25,178.16 567.31,179.25 567.38,180.34 567.44,181.75 567.50,182.50 567.67,183.27 567.83,184.25 568.00,186.02 568.17,186.68 568.33,187.93 568.50,189.19 568.67,190.32 568.83,191.35 569.00,192.00 569.12,192.50 569.23,193.87 569.35,195.37 569.47,196.35 569.58,196.59 569.70,197.62 569.82,198.73 569.93,199.56 570.05,200.84 570.17,202.33 570.28,203.02 570.40,203.95 570.52,204.55 570.63,205.89 570.75,207.00 570.82,208.57 570.89,209.26 570.95,210.01 571.02,211.07 571.09,212.44 571.16,213.42 571.23,213.77 571.30,215.38 571.36,216.06 571.43,217.25 571.50,218.25 571.60,219.00 571.69,220.19 571.79,221.20 571.89,222.29 571.99,222.93 572.08,224.17 572.18,225.62 572.28,226.10 572.38,227.27 572.47,228.91 572.57,229.46 572.67,230.56 572.76,231.51 572.86,233.20 572.96,233.43 573.06,235.07 573.15,236.35 573.25,237.00 573.31,237.67 573.38,238.92 573.44,240.32 573.50,241.13 573.56,241.86 573.62,242.50 573.69,243.94 573.75,244.85 573.81,246.23 573.88,246.77 573.94,247.90 574.00,249.16 574.06,250.34 574.12,250.84 574.19,251.87 574.25,253.09 574.31,254.47 574.38,254.66 574.44,256.52 574.50,257.00 574.56,258.26 574.61,258.91 574.67,260.25 574.73,260.90 574.78,261.64 574.84,263.42 574.90,264.03 574.95,265.21 575.01,266.20 575.07,267.67 575.12,268.53 575.18,268.75 575.24,270.40 575.30,271.28 575.35,272.30 575.41,273.74 575.47,274.29 575.52,275.38 575.58,276.86 575.64,277.39 575.69,278.47 575.75,279.50 575.81,280.54 575.86,281.90 575.92,282.76 575.98,283.86 576.03,284.51 576.09,285.13 576.15,286.86 576.20,287.74 576.26,289.00 576.32,290.02 576.38,290.33 576.43,291.47 576.49,292.33 576.55,294.17 576.60,294.40 576.66,295.41 576.72,297.17 576.77,297.98 576.83,298.44 576.89,300.15 576.94,301.21 577.00,302.00 577.06,302.98 577.11,303.51 577.17,305.21 577.23,305.91 577.28,307.09 577.34,308.55 577.40,309.35 577.45,310.41 577.51,310.61 577.57,311.82 577.62,313.02 577.68,313.46 577.74,315.54 577.80,315.75 577.85,316.74 577.91,317.79 577.97,318.73 578.02,320.39 578.08,321.06 578.14,322.01 578.19,322.91 578.25,324.00 578.38,324.51 578.50,325.78 578.62,327.40 578.75,328.33 578.88,329.39 579.00,329.73 579.12,330.67 579.25,331.51 579.38,333.04 579.50,334.00 579.90,334.86 580.30,335.96 580.70,336.99 581.10,338.09 581.50,339.00 581.59,339.85 581.67,341.33 581.76,341.67 581.85,343.46 581.94,344.06 582.02,344.51 582.11,345.80 582.20,347.04 582.29,347.90 582.38,349.07 582.46,349.81 582.55,350.75 582.64,352.33 582.73,352.77 582.81,354.23 582.90,355.33 582.99,356.10 583.08,356.95 583.16,358.48 583.25,359.00 583.46,359.98 583.67,361.50 583.88,361.64 584.08,363.09 584.29,364.36 584.50,364.75 584.71,366.69 584.92,366.86 585.12,368.48 585.33,369.06 585.54,370.92 585.75,371.50 586.00,372.57 586.25,373.83 586.50,374.50 586.75,375.69 587.00,376.69 587.25,377.27 587.50,378.18 587.75,379.87 588.00,380.11 588.25,381.50 588.88,382.90 589.50,383.05 590.12,383.87 590.75,385.25 591.81,384.80 592.88,385.56 593.94,385.75 595.00,385.25 595.14,384.13 595.27,383.38 595.41,381.92 595.55,381.61 595.68,380.34 595.82,378.73 595.95,377.60 596.09,377.28 596.23,375.54 596.36,375.39 596.50,374.00 596.59,372.77 596.67,371.71 596.76,371.09 596.85,369.80 596.94,369.07 597.02,367.62 597.11,367.45 597.20,365.81 597.29,365.38 597.38,363.62 597.46,363.33 597.55,362.53 597.64,360.88 597.73,359.49 597.81,358.87 597.90,358.15 597.99,356.70 598.08,356.05 598.16,354.55 598.25,354.00 598.34,352.96 598.42,352.25 598.51,350.92 598.60,350.20 598.69,348.58 598.77,348.36 598.86,346.58 598.95,346.47 599.04,345.55 599.12,344.48 599.21,343.03 599.30,341.77 599.39,340.83 599.48,340.28 599.56,339.00 599.65,338.47 599.74,336.55 599.83,335.98 599.91,335.40 600.00,334.00 600.20,333.11 600.40,332.04 600.60,330.55 600.80,329.60 601.00,328.75 601.20,328.43 601.40,327.38 601.60,325.70 601.80,325.47 602.00,324.00 602.08,322.49 602.16,322.11 602.23,321.51 602.31,319.83 602.39,319.49 602.47,318.17 602.55,316.51 602.62,315.82 602.70,314.94 602.78,313.72 602.86,313.27 602.94,311.65 603.02,311.32 603.09,309.78 603.17,308.53 603.25,308.07 603.33,306.56 603.41,306.06 603.48,305.32 603.56,304.11 603.64,302.96 603.72,301.49 603.80,301.01 603.88,299.56 603.95,299.16 604.03,297.60 604.11,297.09 604.19,295.84 604.27,294.86 604.34,294.18 604.42,292.63 604.50,292.00 604.59,290.62 604.69,290.45 604.78,288.76 604.87,288.30 604.96,287.32 605.06,285.87 605.15,284.48 605.24,283.41 605.33,283.25 605.43,281.39 605.52,280.79 605.61,279.82 605.70,278.34 605.80,277.71 605.89,276.35 605.98,275.74 606.07,274.69 606.17,273.52 606.26,272.32 606.35,271.52 606.44,270.28 606.54,269.18 606.63,268.29 606.72,267.96 606.81,266.54 606.91,265.95 607.00,264.50 607.11,262.94 607.23,262.94 607.34,261.42 607.45,260.73 607.57,259.46 607.68,258.57 607.80,257.04 607.91,256.59 608.02,254.91 608.14,254.01 608.25,252.73 608.36,252.11 608.48,251.22 608.59,249.95 608.70,249.59 608.82,247.68 608.93,247.20 609.05,245.80 609.16,245.17 609.27,244.36 609.39,243.25 609.50,242.00 609.62,240.52 609.75,239.72 609.88,239.11 610.00,238.53 610.12,236.50 610.25,236.13 610.38,235.21 610.50,234.35 610.62,232.83 610.75,232.34 610.88,230.96 611.00,230.46 611.12,228.46 611.25,228.48 611.38,226.90 611.50,225.90 611.62,224.55 611.75,223.72 611.88,223.26 612.00,222.00 612.13,221.20 612.27,219.62 612.40,218.83 612.53,217.60 612.67,216.67 612.80,215.69 612.93,214.81 613.07,214.52 613.20,213.55 613.33,212.32 613.47,210.98 613.60,210.00 613.73,209.31 613.87,208.45 614.00,207.00 614.31,206.15 614.62,204.90 614.94,203.29 615.25,202.50 615.54,203.60 615.83,204.80 616.12,205.69 616.42,205.88 616.71,207.53 617.00,208.25 617.15,209.14 617.31,209.99 617.46,211.94 617.62,212.67 617.77,213.81 617.92,214.19 618.08,216.02 618.23,217.19 618.38,218.21 618.54,219.10 618.69,220.25 618.85,221.27 619.00,222.00 619.29,223.14 619.58,224.01 619.88,225.48 620.17,226.48 620.46,227.62 620.75,228.25 621.58,228.86 622.42,230.42 623.25,230.75 623.83,229.95 624.42,229.57 625.00,228.25 625.33,226.79 625.67,226.68 626.00,225.44 626.33,223.81 626.67,223.41 627.00,222.00 627.25,220.71 627.50,219.67 627.75,218.95 628.00,217.71 628.25,217.00 628.47,215.90 628.69,215.26 628.91,213.92 629.12,212.86 629.34,211.41 629.56,210.75 629.78,209.67 630.00,208.25 631.15,208.30 632.30,208.44 633.45,208.16 634.60,207.55 635.75,207.50 636.04,205.92 636.33,205.42 636.62,204.49 636.92,202.82 637.21,201.98 637.50,200.75 637.69,200.03 637.88,198.88 638.06,196.92 638.25,196.36 638.44,194.75 638.62,193.76 638.81,193.44 639.00,192.00 639.14,190.91 639.29,190.12 639.43,188.95 639.57,187.82 639.71,186.69 639.86,185.84 640.00,185.00 640.15,184.35 640.29,183.07 640.44,181.68 640.59,180.43 640.74,179.60 640.88,179.04 641.03,177.73 641.18,176.94 641.32,176.07 641.47,174.29 641.62,173.88 641.76,172.14 641.91,171.97 642.06,170.24 642.21,169.31 642.35,169.03 642.50,167.50 642.75,166.35 643.00,165.20 643.25,164.93 643.50,163.62 643.75,162.93 644.00,161.38 644.25,160.50 644.50,160.00 644.75,158.51 645.00,158.04 645.25,156.16 645.50,155.86 645.75,154.13 646.00,153.53 646.25,152.50 646.50,150.95 646.75,150.14 647.00,149.99 647.25,148.45 647.50,147.84 647.75,146.23 648.00,145.34 648.25,144.06 648.50,143.56 648.75,142.90 649.00,141.52 649.25,140.36 649.50,139.97 649.75,138.93 650.00,137.50 650.18,136.61 650.36,134.89 650.54,134.42 650.71,133.15 650.89,132.65 651.07,130.92 651.25,130.00 651.41,131.27 651.56,132.33 651.72,133.14 651.88,134.40 652.03,135.66 652.19,137.01 652.34,137.65 652.50,138.75 652.75,137.60 653.00,137.27 653.25,135.26 653.50,135.12 653.75,133.75 653.88,134.99 654.00,135.90 654.12,136.82 654.25,138.19 654.38,139.39 654.50,140.00 654.58,139.21 654.67,138.19 654.75,136.36 654.83,135.64 654.92,134.39 655.00,134.25 655.08,133.14 655.17,131.28 655.25,130.72 655.33,129.67 655.42,128.04 655.50,127.50 655.72,126.38 655.93,125.77 656.15,124.66 656.37,123.26 656.58,122.79 656.80,121.27 657.02,120.55 657.23,119.41 657.45,119.03 657.67,117.66 657.88,116.84 658.10,115.69 658.32,114.37 658.53,114.01 658.75,112.50 659.09,111.71 659.43,110.66 659.77,109.19 660.11,108.04 660.45,107.47 660.80,106.72 661.14,105.66 661.48,104.15 661.82,102.90 662.16,102.29 662.50,101.25 662.88,100.67 663.25,98.88 663.62,98.51 664.00,96.89 664.38,96.04 664.75,94.76 665.12,94.03 665.50,93.12 665.88,92.76 666.25,91.25 666.71,90.87 667.18,89.12 667.64,88.36 668.11,88.17 668.57,86.45 669.04,85.70 669.50,85.00 670.50,84.73 671.50,84.17 672.50,84.14 673.50,84.08 674.50,84.00 674.75,82.75 675.00,82.26 675.25,80.37 675.50,79.50 676.75,79.17 678.00,79.50 678.19,81.14 678.38,81.82 678.56,83.43 678.75,84.25 679.79,84.40 680.83,84.56 681.88,84.05 682.92,83.87 683.96,84.53 685.00,84.25 685.19,85.34 685.38,86.56 685.56,87.81 685.75,88.75 685.97,90.12 686.19,90.69 686.41,91.88 686.62,93.58 686.84,94.25 687.06,95.08 687.28,96.55 687.50,97.50 687.75,98.33 688.00,99.99 688.25,100.28 688.50,102.23 688.75,103.04 689.00,103.90 689.25,105.64 689.50,106.25 690.60,106.24 691.70,106.47 692.80,106.53 693.90,107.30 695.00,107.50 695.42,109.03 695.83,110.20 696.25,111.25 697.19,110.53 698.12,110.34 699.06,108.95 700.00,108.75 700.25,109.54 700.50,110.91 700.75,112.26 701.00,112.90 701.25,113.75 702.31,113.96 703.38,114.05 704.44,113.63 705.50,113.75 705.88,115.17 706.25,115.89 706.62,116.39 707.00,117.50 707.25,116.31 707.50,115.69 707.75,114.12 708.00,112.87 708.25,112.55 708.50,111.11 708.75,110.00 709.11,108.95 709.46,108.04 709.82,107.23 710.18,105.31 710.54,104.47 710.89,103.09 711.25,102.50 712.50,102.24 713.75,102.17 715.00,102.00 715.40,103.49 715.80,104.38 716.20,105.39 716.60,106.29 717.00,107.50 717.42,108.62 717.83,109.33 718.25,111.00 718.67,111.98 719.08,113.08 719.50,113.75 720.10,114.37 720.70,115.94 721.30,117.03 721.90,117.75 722.50,118.75 723.00,120.19 723.50,121.19 724.00,122.02 724.50,123.10 725.00,123.75 725.19,124.97 725.38,126.28 725.58,126.52 725.77,128.21 725.96,129.26 726.15,130.22 726.35,130.91 726.54,131.74 726.73,133.38 726.92,134.68 727.12,135.13 727.31,136.13 727.50,137.50 727.67,138.20 727.83,139.05 728.00,140.69 728.17,142.02 728.33,142.83 728.50,143.35 728.67,144.72 728.83,145.03 729.00,146.87 729.17,147.31 729.33,147.95 729.50,149.64 729.67,150.10 729.83,151.25 730.00,152.50 730.15,153.04 730.29,154.50 730.44,155.65 730.59,156.96 730.74,157.14 730.88,159.04 731.03,159.28 731.18,160.43 731.32,161.91 731.47,162.62 731.62,163.64 731.76,164.93 731.91,165.57 732.06,167.23 732.21,167.62 732.35,169.34 732.50,170.00 732.59,171.34 732.68,172.04 732.77,172.48 732.86,174.31 732.95,174.48 733.05,176.01 733.14,176.92 733.23,177.52 733.32,179.14 733.41,180.25 733.50,181.09 733.59,181.89 733.68,183.01 733.77,184.10 733.86,184.70 733.95,186.40 734.05,187.55 734.14,188.33 734.23,189.51 734.32,189.81 734.41,191.53 734.50,192.00 734.59,192.53 734.67,193.98 734.76,194.60 734.85,195.95 734.94,197.20 735.02,198.23 735.11,198.95 735.20,199.83 735.29,200.66 735.38,201.89 735.46,202.76 735.55,203.66 735.64,205.26 735.73,206.02 735.81,206.93 735.90,207.67 735.99,209.22 736.08,209.67 736.16,210.74 736.25,212.00 736.42,213.07 736.58,214.22 736.75,215.52 736.92,216.27 737.08,217.49 737.25,218.46 737.42,219.24 737.58,220.24 737.75,220.52 737.92,221.68 738.08,222.46 738.25,224.40 738.42,225.24 738.58,226.14 738.75,227.00 739.33,227.57 739.92,228.51 740.50,229.50 740.65,230.23 740.80,231.85 740.95,233.34 741.10,233.69 741.25,235.00 741.69,233.50 742.12,232.64 742.56,231.84 743.00,231.00 743.25,232.44 743.50,233.33 743.75,233.95 744.00,235.00 744.50,233.56 745.00,232.57 745.50,231.62 746.00,231.00 746.25,232.31 746.50,232.97 746.75,234.54 747.00,235.00 748.00,235.45 749.00,235.32 750.00,235.00 750.25,233.97 750.50,233.35 750.75,231.59 751.00,231.00 751.25,231.57 751.50,233.07 751.75,234.01 752.00,235.00 752.25,233.68 752.50,232.73 752.75,231.47 753.00,231.00 753.50,232.45 754.00,233.23 754.50,234.49 755.00,235.00 755.04,234.53 755.08,232.93 755.12,232.26 755.15,230.87 755.19,230.34 755.23,229.38 755.27,227.60 755.31,226.46 755.35,225.69 755.38,225.09 755.42,223.87 755.46,222.46 755.50,222.00 755.58,221.36 755.65,220.31 755.73,218.96 755.80,217.50 755.88,217.43 755.95,216.04 756.02,214.53 756.10,213.81 756.17,213.14 756.25,212.42 756.33,210.98 756.40,210.15 756.48,208.68 756.55,207.72 756.62,207.45 756.70,205.87 756.77,204.56 756.85,204.10 756.92,202.59 757.00,202.00 757.05,200.67 757.10,199.95 757.15,199.09 757.20,198.15 757.25,197.23 757.30,195.93 757.35,194.52 757.40,194.25 757.45,192.51 757.50,192.00 757.61,190.94 757.71,189.84 757.82,189.11 757.92,188.13 758.03,186.58 758.13,186.01 758.24,185.03 758.34,183.76 758.45,182.37 758.55,182.19 758.66,180.82 758.76,179.20 758.87,178.37 758.97,178.17 759.08,176.31 759.18,175.46 759.29,174.87 759.39,173.88 759.50,172.50 759.64,171.59 759.78,170.65 759.92,168.83 760.06,167.83 760.19,167.75 760.33,166.50 760.47,164.60 760.61,163.56 760.75,163.00 761.75,162.71 762.75,163.47 763.75,163.00 763.89,163.75 764.03,165.30 764.17,166.64 764.31,167.37 764.44,168.74 764.58,169.07 764.72,170.01 764.86,170.91 765.00,172.50 766.25,173.41 767.50,173.75 767.61,174.34 767.73,176.32 767.84,177.05 767.95,177.50 768.07,179.20 768.18,179.52 768.30,180.92 768.41,181.50 768.52,183.27 768.64,184.41 768.75,185.00 768.86,186.46 768.96,186.45 769.07,188.39 769.18,189.06 769.29,190.35 769.39,191.00 769.50,192.00 769.59,193.13 769.67,194.10 769.76,195.33 769.85,195.54 769.94,196.51 770.02,198.05 770.11,198.77 770.20,199.89 770.29,200.46 770.38,202.27 770.46,202.48 770.55,204.36 770.64,205.34 770.73,205.95 770.81,206.58 770.90,208.17 770.99,208.68 771.08,209.92 771.16,210.57 771.25,212.00 771.38,213.52 771.50,214.05 771.62,214.84 771.75,215.55 771.88,217.25 772.00,218.38 772.12,219.38 772.25,219.56 772.38,220.85 772.50,221.78 772.62,223.29 772.75,223.61 772.88,225.12 773.00,226.53 773.12,227.30 773.25,227.46 773.38,228.53 773.50,229.58 773.62,231.21 773.75,232.00 773.94,233.17 774.13,234.14 774.33,235.12 774.52,236.13 774.71,237.41 774.90,238.51 775.10,239.86 775.29,240.72 775.48,241.85 775.67,243.03 775.87,244.01 776.06,244.93 776.25,245.75 776.75,246.23 777.25,247.95 777.75,249.13 778.25,249.67 778.75,250.75 779.04,252.29 779.33,252.65 779.62,254.61 779.92,255.19 780.21,256.60 780.50,257.50 781.50,257.23 782.50,257.28 783.50,257.33 784.50,257.50 784.67,256.26 784.85,254.95 785.02,254.29 785.20,253.83 785.38,252.42 785.55,251.68 785.73,250.44 785.90,249.47 786.08,248.59 786.25,247.00 786.75,246.28 787.25,244.75 787.75,243.72 788.25,242.90 788.75,242.00 788.96,240.43 789.17,239.62 789.38,239.30 789.58,238.30 789.79,236.60 790.00,236.05 790.21,235.01 790.42,234.10 790.62,232.95 790.83,231.62 791.04,230.11 791.25,229.50 791.35,228.83 791.46,227.24 791.56,226.55 791.66,225.24 791.76,224.39 791.87,223.84 791.97,221.92 792.07,221.30 792.18,220.40 792.28,219.25 792.38,218.66 792.49,217.05 792.59,216.57 792.69,215.30 792.79,214.57 792.90,212.58 793.00,212.00 793.10,210.68 793.20,209.77 793.30,209.45 793.40,207.46 793.50,206.74 793.60,206.24 793.70,205.54 793.80,203.64 793.90,202.93 794.00,202.21 794.10,201.21 794.20,200.27 794.30,199.28 794.40,197.72 794.50,197.00 794.60,195.73 794.70,194.48 794.80,194.21 794.90,192.68 795.00,192.00 795.29,190.74 795.57,190.51 795.86,189.16 796.14,188.10 796.43,187.17 796.71,186.11 797.00,185.00 797.21,184.21 797.43,182.78 797.64,181.52 797.86,180.52 798.07,179.47 798.29,178.85 798.50,178.00 799.00,176.61 799.50,175.57 800.00,175.00 800.40,175.99 800.80,177.52 801.20,178.21 801.60,178.75 802.00,180.00 802.21,181.30 802.43,181.65 802.64,182.56 802.86,183.78 803.07,184.90 803.29,186.21 803.50,187.00 803.80,187.94 804.10,189.25 804.40,189.55 804.70,191.48 805.00,192.00 805.75,192.76 806.50,194.24 807.25,194.30 808.00,195.75 808.33,197.07 808.67,197.37 809.00,199.02 809.33,199.92 809.67,200.73 810.00,201.50 811.25,201.76 812.50,202.50 812.81,203.09 813.12,204.41 813.44,206.32 813.75,207.00" fill="none" stroke="#ff8c00" stroke-width="1.1" stroke-linejoin="round"/>
<polyline points="56.25,441.50 56.31,439.78 56.38,439.53 56.44,438.04 56.50,437.60 56.56,436.62 56.62,434.12 56.69,432.94 56.75,434.04 56.81,431.50 56.88,430.39 56.94,431.33 57.00,429.00 57.07,429.99 57.14,432.02 57.21,432.15 57.29,433.65 57.36,433.45 57.43,435.78 57.50,436.50 58.75,436.71 60.00,435.00 60.42,435.98 60.83,437.46 61.25,437.75 62.40,438.20 63.55,436.62 64.70,438.42 65.85,437.99 67.00,437.75 67.09,436.21 67.18,434.49 67.27,435.63 67.36,433.59 67.45,433.21 67.55,432.60 67.64,431.15 67.73,430.66 67.82,428.27 67.91,428.31 68.00,426.50 68.75,425.11 69.50,424.00 69.58,424.13 69.67,422.99 69.75,419.95 69.83,419.05 69.92,418.26 70.00,419.21 70.08,416.83 70.17,416.33 70.25,414.48 70.33,414.02 70.42,412.70 70.50,411.61 70.58,411.22 70.67,410.22 70.75,410.05 70.83,408.47 70.92,408.12 71.00,406.93 71.08,406.28 71.17,404.45 71.25,402.12 71.33,402.94 71.42,402.21 71.50,401.05 71.58,399.18 71.67,398.56 71.75,396.25 71.83,396.86 71.92,395.19 72.00,394.00 72.10,394.44 72.20,394.86 72.30,397.92 72.40,399.27 72.50,397.93 72.60,400.78 72.70,400.77 72.80,401.09 72.90,402.46 73.00,404.00 73.38,403.70 73.75,402.97 74.12,399.81 74.50,400.00 74.68,401.40 74.86,401.03 75.04,403.89 75.21,403.99 75.39,406.53 75.57,407.89 75.75,407.75 76.08,406.79 76.42,407.10 76.75,404.34 77.08,402.76 77.42,403.15 77.75,400.70 78.08,400.16 78.42,399.73 78.75,399.00 79.16,398.35 79.56,396.23 79.97,395.00 80.38,396.21 80.78,393.83 81.19,394.57 81.59,393.47 82.00,391.50 82.12,390.18 82.23,389.40 82.35,388.55 82.47,387.87 82.58,386.75 82.70,385.65 82.82,384.81 82.93,384.65 83.05,382.52 83.17,381.32 83.28,381.07 83.40,378.82 83.52,377.98 83.63,378.74 83.75,376.50 83.93,375.48 84.11,374.48 84.29,372.02 84.46,371.99 84.64,371.35 84.82,368.82 85.00,369.00 85.62,370.24 86.25,371.22 86.88,370.67 87.50,372.75 88.75,373.08 90.00,372.75 90.40,373.66 90.80,375.22 91.20,375.37 91.60,377.29 92.00,377.75 92.22,377.28 92.44,374.32 92.66,373.33 92.88,373.83 93.09,373.49 93.31,370.54 93.53,369.98 93.75,369.00 93.83,368.24 93.92,366.53 94.00,365.65 94.08,364.51 94.17,363.66 94.25,363.25 94.33,361.48 94.42,360.68 94.50,360.71 94.58,357.77 94.67,358.18 94.75,357.61 94.83,355.51 94.92,354.28 95.00,354.00 95.07,353.78 95.15,351.29 95.22,350.14 95.29,349.77 95.37,349.44 95.44,346.88 95.51,346.43 95.59,345.45 95.66,345.73 95.74,343.69 95.81,343.76 95.88,340.96 95.96,340.38 96.03,340.18 96.10,339.78 96.18,337.64 96.25,336.04 96.32,334.75 96.40,334.80 96.47,332.90 96.54,333.49 96.62,332.56 96.69,329.84 96.76,329.07 96.84,329.43 96.91,327.99 96.99,327.40 97.06,325.19 97.13,323.61 97.21,323.02 97.28,323.31 97.35,320.93 97.43,320.12 97.50,319.50 98.12,318.03 98.75,317.00 98.82,315.77 98.89,314.73 98.96,315.04 99.03,312.04 99.09,310.63 99.16,312.05 99.23,310.87 99.30,310.13 99.37,307.67 99.44,308.00 99.51,306.92 99.58,304.07 99.65,304.41 99.72,303.63 99.78,302.17 99.85,300.77 99.92,299.16 99.99,298.28 100.06,296.96 100.13,295.53 100.20,295.87 100.27,294.07 100.34,294.41 100.41,291.40 100.47,292.62 100.54,291.06 100.61,290.64 100.68,289.55 100.75,287.50 100.79,289.54 100.83,289.70 100.88,289.23 100.92,292.14 100.96,291.65 101.00,292.98 101.04,294.92 101.08,295.56 101.12,296.28 101.17,298.64 101.21,298.79 101.25,299.50 101.88,299.96 102.50,300.61 103.12,303.07 103.75,303.00 104.58,303.61 105.42,305.07 106.25,304.61 107.08,304.88 107.92,306.42 108.75,307.00 108.78,308.82 108.82,308.15 108.85,310.76 108.88,312.10 108.92,312.80 108.95,313.84 108.98,312.72 109.02,315.33 109.05,316.94 109.08,315.83 109.12,317.41 109.15,318.40 109.18,320.07 109.22,320.80 109.25,322.00 109.36,320.91 109.48,320.67 109.59,317.64 109.70,316.75 109.82,315.92 109.93,314.89 110.05,313.72 110.16,315.05 110.27,313.72 110.39,310.70 110.50,310.75 110.70,311.77 110.91,312.30 111.11,313.31 111.31,314.43 111.52,316.21 111.72,317.07 111.92,317.50 112.12,318.07 112.33,319.45 112.53,319.93 112.73,322.07 112.94,323.50 113.14,323.64 113.34,323.88 113.55,325.15 113.75,327.00 114.25,327.67 114.75,329.27 115.25,330.73 115.75,330.69 116.25,332.00 116.42,333.78 116.58,334.32 116.75,334.82 116.92,335.67 117.08,336.99 117.25,338.53 117.42,338.79 117.58,340.50 117.75,340.90 117.92,341.34 118.08,343.09 118.25,344.51 118.42,343.89 118.58,345.80 118.75,347.00 119.00,345.81 119.25,345.99 119.50,345.13 119.75,342.67 120.00,342.00 120.50,344.03 121.00,344.76 121.50,344.38 122.00,345.91 122.50,347.00 122.86,344.95 123.21,345.67 123.57,344.21 123.93,343.72 124.29,342.40 124.64,341.01 125.00,339.50 125.29,339.14 125.59,337.72 125.88,335.56 126.18,335.85 126.47,333.36 126.76,332.75 127.06,333.42 127.35,330.55 127.65,329.70 127.94,328.75 128.24,329.81 128.53,327.02 128.82,325.64 129.12,326.80 129.41,323.96 129.71,324.86 130.00,323.00 130.62,324.45 131.25,325.87 131.88,327.18 132.50,327.00 133.12,328.04 133.75,329.44 134.38,328.29 135.00,331.03 135.62,331.20 136.25,332.00 137.50,332.14 138.75,330.14 140.00,330.75 141.00,331.27 142.00,331.63 143.00,329.23 144.00,329.79 145.00,330.29 146.00,330.85 147.00,329.20 148.00,328.92 149.00,328.97 150.00,329.50 150.42,328.72 150.83,327.99 151.25,325.97 151.67,324.82 152.08,323.81 152.50,323.00 153.25,321.91 154.00,321.39 154.75,319.82 155.50,320.20 156.25,319.50 156.52,319.68 156.80,317.18 157.07,317.01 157.34,314.44 157.61,314.77 157.89,313.89 158.16,312.63 158.43,311.18 158.70,310.05 158.98,309.42 159.25,308.00 159.39,310.03 159.53,309.09 159.67,309.95 159.81,312.65 159.94,314.08 160.08,314.04 160.22,314.85 160.36,316.57 160.50,317.00 160.83,315.14 161.17,314.31 161.50,313.09 161.83,313.06 162.17,311.31 162.50,310.75 163.44,309.37 164.38,309.87 165.31,309.87 166.25,308.00 167.00,308.27 167.75,310.13 168.50,310.17 169.25,312.12 170.00,312.00 170.71,311.51 171.43,309.97 172.14,309.12 172.86,307.90 173.57,308.38 174.29,307.41 175.00,307.00 176.00,305.65 177.00,305.64 178.00,305.04 179.00,305.71 180.00,304.50 180.38,302.57 180.75,303.78 181.12,301.45 181.50,300.76 181.88,299.42 182.25,299.37 182.62,298.34 183.00,296.65 183.38,295.45 183.75,294.50 184.00,294.07 184.25,293.43 184.50,291.24 184.75,291.11 185.00,290.70 185.25,288.42 185.50,286.80 185.75,285.81 186.00,286.07 186.25,284.96 186.50,284.69 186.75,283.42 187.00,280.83 187.25,279.69 187.50,279.50 187.62,277.87 187.75,276.69 187.88,277.03 188.00,276.43 188.12,275.54 188.25,272.86 188.38,273.45 188.50,271.01 188.62,270.30 188.75,270.10 188.88,267.42 189.00,266.44 189.12,267.37 189.25,264.96 189.38,264.13 189.50,263.71 189.62,262.96 189.75,260.22 189.88,260.07 190.00,259.50 190.10,258.31 190.19,257.42 190.29,255.67 190.38,255.63 190.48,255.56 190.57,253.07 190.67,252.45 190.76,250.32 190.86,249.70 190.95,249.69 191.05,247.23 191.14,248.22 191.24,247.25 191.33,244.12 191.43,245.29 191.52,242.79 191.62,242.80 191.71,241.74 191.81,239.52 191.90,239.48 192.00,238.00 192.04,239.43 192.07,240.85 192.11,240.47 192.15,242.77 192.19,244.34 192.22,244.62 192.26,245.29 192.30,245.22 192.33,247.23 192.37,247.89 192.41,249.87 192.44,250.80 192.48,251.53 192.52,251.56 192.56,253.80 192.59,254.78 192.63,254.64 192.67,257.51 192.70,257.93 192.74,257.58 192.78,260.71 192.81,259.68 192.85,261.20 192.89,263.24 192.93,263.95 192.96,264.87 193.00,265.75 193.09,265.09 193.18,263.55 193.26,262.13 193.35,260.73 193.44,259.41 193.53,260.05 193.62,259.10 193.71,257.51 193.79,256.98 193.88,254.94 193.97,253.66 194.06,252.92 194.15,253.15 194.24,249.94 194.32,250.10 194.41,248.39 194.50,248.00 195.10,249.50 195.70,249.22 196.30,249.97 196.90,250.95 197.50,252.00 198.00,253.11 198.50,254.71 199.00,254.62 199.50,256.90 200.00,257.00 200.42,256.96 200.83,258.35 201.25,258.88 201.67,259.88 202.08,262.59 202.50,263.42 202.92,262.99 203.33,263.97 203.75,265.75 204.25,264.53 204.75,264.38 205.25,263.57 205.75,262.40 206.25,260.75 207.00,260.24 207.75,258.33 208.50,258.24 209.25,256.95 210.00,257.00 210.75,256.27 211.50,255.58 212.25,253.83 213.00,253.15 213.75,253.00 215.00,254.48 216.25,254.50 216.50,252.28 216.75,253.29 217.00,252.52 217.25,251.67 217.50,249.20 217.75,248.64 218.00,247.72 218.25,246.85 218.50,246.74 218.75,244.50 219.00,243.99 219.25,241.98 219.50,242.44 219.75,240.46 220.00,239.76 220.25,239.09 220.50,236.21 220.75,237.20 221.00,235.92 221.25,234.50 221.40,233.44 221.54,232.48 221.69,231.27 221.83,229.54 221.98,229.37 222.12,227.05 222.27,227.21 222.42,226.55 222.56,224.98 222.71,224.25 222.85,224.24 223.00,222.00 223.03,222.01 223.07,219.03 223.10,219.73 223.13,218.28 223.16,215.78 223.20,215.57 223.23,214.23 223.26,212.82 223.29,213.00 223.33,213.01 223.36,210.42 223.39,210.83 223.42,209.36 223.46,206.90 223.49,207.77 223.52,206.09 223.55,205.93 223.59,204.37 223.62,203.42 223.65,201.38 223.68,201.57 223.72,200.88 223.75,198.75 223.81,200.71 223.87,200.62 223.92,202.48 223.98,202.79 224.04,202.83 224.10,203.68 224.15,204.79 224.21,206.12 224.27,207.04 224.33,208.93 224.38,210.48 224.44,211.08 224.50,212.00 224.67,210.80 224.83,210.39 225.00,208.49 225.17,207.91 225.33,207.67 225.50,206.00 225.58,206.74 225.67,207.17 225.75,210.04 225.83,210.57 225.92,210.65 226.00,211.66 226.08,213.08 226.17,214.25 226.25,215.00 226.50,213.28 226.75,211.71 227.00,211.24 227.25,211.74 227.50,209.07 227.75,208.90 228.00,207.21 228.25,206.24 228.50,205.14 228.75,205.00 229.88,205.50 231.00,206.50 231.69,206.51 232.38,207.02 233.06,208.11 233.75,210.00 234.38,209.97 235.00,211.64 235.62,211.36 236.25,212.09 236.88,214.03 237.50,215.00 237.92,215.76 238.33,217.53 238.75,216.83 239.17,218.75 239.58,219.73 240.00,221.00 240.20,218.77 240.40,220.21 240.60,217.27 240.80,215.95 241.00,216.00 241.38,216.93 241.75,217.13 242.12,219.32 242.50,220.00 243.08,218.60 243.67,217.02 244.25,215.83 244.83,216.59 245.42,214.42 246.00,214.00 247.00,214.37 248.00,213.16 249.00,214.00 250.00,212.50 251.00,212.31 252.00,212.52 253.00,213.50 254.08,212.97 255.17,214.48 256.25,213.75 257.00,214.99 257.75,215.15 258.50,215.39 259.25,217.82 260.00,218.25 260.71,220.18 261.43,219.92 262.14,219.10 262.86,219.89 263.57,220.76 264.29,221.68 265.00,223.25 265.50,223.05 266.00,224.09 266.50,226.65 267.00,228.29 267.50,228.25 268.12,226.64 268.75,227.82 269.38,225.69 270.00,225.71 270.62,225.17 271.25,223.25 271.88,225.23 272.50,223.71 273.12,225.24 273.75,226.86 274.38,228.58 275.00,228.25 275.62,228.01 276.25,229.38 276.88,231.66 277.50,230.58 278.12,232.13 278.75,233.25 278.88,233.82 279.00,235.72 279.12,237.36 279.25,236.40 279.38,238.87 279.50,239.86 279.62,241.12 279.75,241.39 279.88,243.35 280.00,243.25 280.16,241.80 280.31,240.84 280.47,239.27 280.62,239.60 280.78,237.73 280.94,236.09 281.09,234.74 281.25,234.50 282.50,235.70 283.75,235.75 284.58,235.02 285.42,234.30 286.25,232.75 287.08,233.08 287.92,233.97 288.75,233.73 289.58,235.80 290.42,234.63 291.25,236.50 292.29,236.50 293.33,237.34 294.38,237.21 295.42,235.79 296.46,236.23 297.50,237.00 298.50,237.39 299.50,236.37 300.50,236.48 301.50,235.97 302.50,234.50 303.12,233.43 303.75,233.66 304.38,232.29 305.00,230.75 305.75,231.07 306.50,231.91 307.25,231.89 308.00,233.49 308.75,234.50 309.17,236.93 309.58,235.97 310.00,238.25 311.00,238.08 312.00,236.54 313.00,236.11 314.00,237.24 315.00,236.50 315.62,234.87 316.25,233.41 316.88,232.72 317.50,233.04 318.12,231.93 318.75,230.75 319.00,228.48 319.25,228.05 319.50,228.96 319.75,226.02 320.00,225.75 320.62,227.16 321.25,228.25 321.88,227.10 322.50,227.11 323.12,225.71 323.75,224.50 324.38,224.31 325.00,222.72 325.62,220.88 326.25,220.75 327.00,220.66 327.75,221.16 328.50,223.85 329.25,222.74 330.00,224.50 330.94,222.64 331.88,224.46 332.81,221.84 333.75,222.00 335.00,223.44 336.25,221.76 337.50,223.25 338.54,222.74 339.58,221.70 340.62,222.86 341.67,221.88 342.71,221.54 343.75,220.75 345.00,221.01 346.25,220.88 347.50,219.50 347.86,218.03 348.21,217.63 348.57,216.14 348.93,214.20 349.29,215.01 349.64,213.32 350.00,212.00 350.42,211.82 350.83,209.24 351.25,209.00 352.08,210.10 352.92,210.91 353.75,212.00 354.69,213.34 355.62,212.40 356.56,213.85 357.50,215.00 358.50,214.76 359.50,213.49 360.50,214.54 361.50,214.81 362.50,214.00 363.50,213.40 364.50,213.59 365.50,213.08 366.50,211.66 367.50,212.00 368.50,211.01 369.50,212.09 370.50,209.77 371.50,209.42 372.50,209.00 373.44,207.42 374.38,207.27 375.31,206.63 376.25,207.00 376.67,207.08 377.08,205.51 377.50,204.85 377.92,204.10 378.33,202.08 378.75,200.75 379.17,203.12 379.58,203.34 380.00,204.50 380.62,203.46 381.25,204.00 381.88,203.05 382.50,202.34 383.12,200.29 383.75,199.50 384.58,199.38 385.42,197.59 386.25,197.00 386.75,199.19 387.25,199.89 387.75,199.16 388.25,201.73 388.75,201.50 389.25,199.78 389.75,198.65 390.25,199.38 390.75,197.37 391.25,197.00 391.62,196.05 392.00,195.36 392.38,192.81 392.75,193.64 393.12,191.42 393.50,190.82 393.88,189.60 394.25,189.63 394.62,188.64 395.00,187.00 395.38,185.50 395.75,184.07 396.12,183.63 396.50,182.97 396.88,181.15 397.25,180.40 397.62,181.03 398.00,179.92 398.38,179.69 398.75,177.50 399.58,179.41 400.42,179.81 401.25,179.50 402.08,180.00 402.92,180.29 403.75,182.00 404.38,180.26 405.00,179.50 405.36,178.33 405.71,177.42 406.07,176.40 406.43,174.85 406.79,175.06 407.14,172.51 407.50,172.00 407.92,170.86 408.33,170.92 408.75,169.67 409.17,167.31 409.58,166.12 410.00,165.75 410.62,167.48 411.25,166.35 411.88,167.60 412.50,169.50 412.78,168.52 413.06,167.48 413.33,165.46 413.61,164.11 413.89,163.45 414.17,163.87 414.44,162.02 414.72,162.30 415.00,160.00 415.83,159.91 416.67,159.58 417.50,157.50 418.00,155.29 418.50,154.68 419.00,153.23 419.50,153.32 420.00,152.50 420.36,151.01 420.71,149.19 421.07,149.41 421.43,147.16 421.79,146.65 422.14,145.41 422.50,145.00 422.70,144.79 422.90,142.79 423.10,141.38 423.30,139.81 423.50,139.82 423.70,139.33 423.90,138.46 424.10,138.07 424.30,136.80 424.50,134.34 424.70,133.05 424.90,133.67 425.10,132.75 425.30,131.02 425.50,130.00 425.71,131.93 425.93,132.28 426.14,132.64 426.36,133.42 426.57,134.10 426.79,136.80 427.00,137.50 427.33,137.28 427.67,136.06 428.00,133.75 428.23,134.69 428.45,136.23 428.68,137.93 428.91,138.66 429.14,139.13 429.36,139.66 429.59,140.96 429.82,141.08 430.05,142.13 430.27,144.46 430.50,145.00 430.75,147.37 431.00,147.31 431.25,148.04 431.50,148.99 431.75,150.35 432.00,152.35 432.25,152.53 432.50,153.75 432.75,153.94 433.00,150.85 433.25,150.27 433.50,149.81 433.75,148.52 434.00,148.66 434.25,147.60 434.50,146.87 434.75,145.04 435.00,143.75 435.42,143.50 435.83,145.89 436.25,146.80 436.67,147.61 437.08,148.04 437.50,150.13 437.92,151.63 438.33,150.49 438.75,152.50 439.29,152.05 439.82,150.38 440.36,149.86 440.89,149.96 441.43,149.23 441.96,147.52 442.50,146.25 443.06,146.29 443.61,149.01 444.17,147.92 444.72,149.28 445.28,151.27 445.83,150.77 446.39,151.49 446.94,154.09 447.50,153.75 448.33,155.53 449.17,154.53 450.00,155.35 450.83,155.68 451.67,155.92 452.50,157.50 452.83,155.81 453.17,156.67 453.50,153.28 453.83,152.63 454.17,151.51 454.50,151.25 455.12,150.99 455.75,152.98 456.38,154.38 457.00,155.46 457.62,155.76 458.25,156.25 459.50,156.66 460.75,154.13 462.00,155.00 463.25,154.85 464.50,157.03 465.75,156.25 467.00,155.13 468.25,155.65 469.50,156.25 469.73,157.23 469.95,157.69 470.18,159.44 470.41,159.16 470.64,160.68 470.86,163.58 471.09,162.48 471.32,165.49 471.55,164.62 471.77,167.76 472.00,167.50 472.75,168.89 473.50,169.76 474.25,169.38 475.00,171.25 476.08,169.51 477.17,170.76 478.25,169.50 479.19,169.10 480.12,169.57 481.06,171.65 482.00,171.25 482.94,171.41 483.88,168.45 484.81,170.01 485.75,168.00 486.69,167.34 487.62,166.19 488.56,164.73 489.50,165.00 490.12,163.78 490.75,164.39 491.38,161.62 492.00,161.25 492.83,159.46 493.67,158.66 494.50,158.75 494.86,156.71 495.21,156.22 495.57,156.61 495.93,153.36 496.29,152.59 496.64,153.46 497.00,151.25 497.50,151.54 498.00,150.50 498.50,147.59 499.00,146.87 499.50,146.25 499.83,146.46 500.17,144.29 500.50,143.90 500.83,141.93 501.17,140.21 501.50,140.50 502.25,140.91 503.00,142.77 503.75,143.67 504.50,143.75 505.75,144.35 507.00,144.49 508.25,145.00 509.19,145.72 510.12,146.10 511.06,146.96 512.00,147.50 512.94,148.99 513.88,147.97 514.81,149.62 515.75,150.00 516.58,150.46 517.42,149.57 518.25,148.00 518.88,148.00 519.50,150.87 520.12,151.38 520.75,150.47 521.38,151.56 522.00,153.00 522.94,152.60 523.88,152.59 524.81,155.37 525.75,154.50 526.38,153.31 527.00,153.55 527.62,150.62 528.25,149.40 528.88,150.67 529.50,148.75 530.25,148.76 531.00,148.53 531.75,146.98 532.50,145.75 533.15,146.67 533.80,148.14 534.45,147.24 535.10,149.25 535.75,150.00 535.93,150.92 536.11,151.22 536.29,153.48 536.46,153.83 536.64,155.37 536.82,156.10 537.00,157.50 537.62,156.09 538.25,155.26 538.88,154.95 539.50,153.75 540.04,154.11 540.57,153.10 541.11,152.01 541.64,151.05 542.18,148.73 542.71,149.63 543.25,147.50 544.50,146.73 545.75,146.19 547.00,147.00 548.00,147.10 549.00,147.80 550.00,146.89 551.00,147.78 552.00,147.50 552.62,146.10 553.25,147.05 553.88,144.88 554.50,144.11 555.12,143.42 555.75,142.50 557.00,143.47 558.25,143.76 559.50,142.50 560.44,143.07 561.38,143.35 562.31,144.31 563.25,144.50 564.00,142.48 564.75,142.51 565.50,142.70 566.25,141.62 567.00,140.00 567.42,137.88 567.83,138.98 568.25,136.78 568.67,137.36 569.08,134.79 569.50,133.42 569.92,133.32 570.33,133.22 570.75,131.25 571.50,130.32 572.25,130.71 573.00,129.55 573.75,127.89 574.50,127.50 574.73,125.96 574.95,125.47 575.18,124.17 575.41,123.08 575.64,122.78 575.86,122.34 576.09,120.56 576.32,118.40 576.55,117.57 576.77,116.94 577.00,116.25 577.62,115.61 578.25,113.44 578.88,112.35 579.50,112.50 579.75,113.03 580.00,113.94 580.25,114.28 580.50,116.60 580.75,117.50 580.98,117.57 581.20,115.54 581.43,115.05 581.66,114.26 581.89,113.26 582.11,112.44 582.34,110.19 582.57,109.79 582.80,107.31 583.02,108.26 583.25,106.25 584.08,105.10 584.92,104.52 585.75,103.75 587.00,104.14 588.25,102.50 589.50,101.32 590.75,101.25 591.38,101.38 592.00,103.97 592.62,104.32 593.25,105.00 593.67,104.96 594.08,105.86 594.50,107.74 594.92,107.89 595.33,111.07 595.75,111.25 596.38,111.24 597.00,112.29 597.62,113.40 598.25,114.50 599.19,114.97 600.12,115.20 601.06,116.15 602.00,116.25 602.67,117.50 603.33,117.75 604.00,118.75 604.25,116.63 604.50,117.85 604.75,116.03 605.00,113.38 605.25,113.24 605.50,112.98 605.75,111.25 606.50,111.68 607.25,108.42 608.00,107.42 608.75,107.80 609.50,107.00 610.33,107.38 611.17,109.19 612.00,108.75 612.54,108.71 613.07,106.53 613.61,105.86 614.14,105.39 614.68,105.28 615.21,102.62 615.75,102.50 616.58,101.39 617.42,99.76 618.25,100.00 618.88,101.20 619.50,100.44 620.12,103.63 620.75,103.40 621.38,104.36 622.00,105.00 622.75,104.67 623.50,105.80 624.25,107.17 625.00,108.93 625.75,108.75 626.38,109.68 627.00,109.86 627.62,112.50 628.25,112.50 628.88,112.99 629.50,113.75 630.44,112.35 631.38,111.98 632.31,112.91 633.25,111.25 634.25,109.80 635.25,110.33 636.25,110.06 637.25,108.87 638.25,108.75 639.00,110.20 639.75,111.32 640.50,111.93 641.25,112.37 642.00,112.50 642.54,112.62 643.07,113.14 643.61,115.00 644.14,115.58 644.68,116.17 645.21,118.82 645.75,118.75 646.58,118.85 647.42,121.26 648.25,121.25 648.41,123.48 648.56,122.45 648.72,125.61 648.88,125.36 649.03,125.97 649.19,127.00 649.34,127.70 649.50,130.00 650.25,129.25 651.00,128.20 651.75,128.66 652.50,127.00 653.44,127.49 654.38,125.10 655.31,125.62 656.25,125.50 657.00,126.01 657.75,126.26 658.50,127.25 659.25,128.08 660.00,129.50 661.00,129.85 662.00,128.78 663.00,128.04 664.00,128.17 665.00,128.75 665.62,129.43 666.25,130.59 666.88,130.59 667.50,132.60 668.12,132.18 668.75,133.75 669.79,134.19 670.83,134.03 671.88,132.91 672.92,134.40 673.96,133.48 675.00,133.75 675.47,132.92 675.94,132.13 676.41,131.27 676.88,129.85 677.34,127.91 677.81,128.87 678.28,128.12 678.75,126.25 679.75,126.07 680.75,126.16 681.75,125.20 682.75,126.69 683.75,125.50 684.38,125.11 685.00,123.03 685.62,123.70 686.25,122.00 687.19,122.76 688.12,120.60 689.06,121.79 690.00,120.00 691.00,120.21 692.00,119.66 693.00,121.31 694.00,120.58 695.00,121.25 696.25,122.27 697.50,122.30 698.75,122.50 699.50,120.73 700.25,121.07 701.00,121.16 701.75,119.44 702.50,118.75 703.50,119.35 704.50,120.69 705.50,120.11 706.50,120.73 707.50,121.25 708.75,121.88 710.00,122.93 711.25,122.50 712.19,121.10 713.12,120.19 714.06,121.30 715.00,120.00 715.62,119.30 716.25,117.82 716.88,118.52 717.50,117.67 718.12,115.94 718.75,115.00 719.50,115.52 720.25,114.37 721.00,113.39 721.75,111.46 722.50,111.25 723.50,109.98 724.50,111.71 725.50,111.86 726.50,110.86 727.50,111.25 728.12,110.36 728.75,109.76 729.38,108.10 730.00,108.43 730.62,107.25 731.25,106.25 731.71,105.06 732.18,103.45 732.64,103.71 733.11,102.21 733.57,102.37 734.04,100.04 734.50,100.00 735.50,99.31 736.50,98.38 737.50,98.75 738.44,99.32 739.38,100.57 740.31,100.17 741.25,102.00 742.19,100.03 743.12,100.33 744.06,98.79 745.00,98.75 745.75,99.51 746.50,99.38 747.25,99.96 748.00,101.85 748.75,102.50 749.69,102.98 750.62,102.21 751.56,100.67 752.50,100.00 753.25,100.48 754.00,100.37 754.75,101.67 755.50,102.52 756.25,103.75 757.19,104.46 758.12,101.88 759.06,103.60 760.00,102.00 761.00,101.54 762.00,101.03 763.00,100.18 764.00,101.60 765.00,100.00 766.00,98.35 767.00,98.52 768.00,97.50 768.40,96.43 768.80,94.52 769.20,93.48 769.60,94.36 770.00,92.00 770.94,92.26 771.88,91.61 772.81,91.55 773.75,90.00 775.00,89.37 776.25,91.36 777.50,91.25 778.75,91.65 780.00,90.04 781.25,90.50 782.19,91.20 783.12,93.36 784.06,92.49 785.00,93.75 785.94,94.87 786.88,93.75 787.81,95.50 788.75,95.50 789.38,93.98 790.00,93.69 790.62,92.42 791.25,92.80 791.88,91.55 792.50,90.00 793.44,89.39 794.38,89.24 795.31,87.94 796.25,87.50 797.50,88.46 798.75,87.20 800.00,88.00 800.94,87.55 801.88,87.10 802.81,86.02 803.75,85.75 805.00,84.74 806.25,85.23 807.50,86.25 808.75,86.87 810.00,86.00 811.25,87.00 812.08,87.00 812.92,85.68 813.75,85.00" fill="none" stroke="#000" stroke-width="1.25" stroke-linejoin="round"/>
<line x1="56.5" x2="56.5" y1="34.4" y2="481.3" stroke="#55575e" stroke-width="0.7"/>
<line x1="56.5" x2="814.0" y1="481.3" y2="481.3" stroke="#6e7079" stroke-width="0.7"/>
<line x1="56.90" x2="56.90" y1="481.3" y2="484.1" stroke="#6e7079" stroke-width="0.6"/>
<text x="56.90" y="491.9" text-anchor="middle" font-size="7.3" fill="#5c5e66">2010-07-17</text>
<line x1="108.35" x2="108.35" y1="481.3" y2="484.1" stroke="#6e7079" stroke-width="0.6"/>
<text x="108.35" y="491.9" text-anchor="middle" font-size="7.3" fill="#5c5e66">2011-07-30</text>
<line x1="159.80" x2="159.80" y1="481.3" y2="484.1" stroke="#6e7079" stroke-width="0.6"/>
<text x="159.80" y="491.9" text-anchor="middle" font-size="7.3" fill="#5c5e66">2012-08-11</text>
<line x1="211.25" x2="211.25" y1="481.3" y2="484.1" stroke="#6e7079" stroke-width="0.6"/>
<text x="211.25" y="491.9" text-anchor="middle" font-size="7.3" fill="#5c5e66">2013-08-24</text>
<line x1="262.70" x2="262.70" y1="481.3" y2="484.1" stroke="#6e7079" stroke-width="0.6"/>
<text x="262.70" y="491.9" text-anchor="middle" font-size="7.3" fill="#5c5e66">2014-09-06</text>
<line x1="314.15" x2="314.15" y1="481.3" y2="484.1" stroke="#6e7079" stroke-width="0.6"/>
<text x="314.15" y="491.9" text-anchor="middle" font-size="7.3" fill="#5c5e66">2015-09-19</text>
<line x1="365.60" x2="365.60" y1="481.3" y2="484.1" stroke="#6e7079" stroke-width="0.6"/>
<text x="365.60" y="491.9" text-anchor="middle" font-size="7.3" fill="#5c5e66">2016-10-01</text>
<line x1="417.05" x2="417.05" y1="481.3" y2="484.1" stroke="#6e7079" stroke-width="0.6"/>
<text x="417.05" y="491.9" text-anchor="middle" font-size="7.3" fill="#5c5e66">2017-10-14</text>
<line x1="468.50" x2="468.50" y1="481.3" y2="484.1" stroke="#6e7079" stroke-width="0.6"/>
<text x="468.50" y="491.9" text-anchor="middle" font-size="7.3" fill="#5c5e66">2018-10-27</text>
<line x1="519.95" x2="519.95" y1="481.3" y2="484.1" stroke="#6e7079" stroke-width="0.6"/>
<text x="519.95" y="491.9" text-anchor="middle" font-size="7.3" fill="#5c5e66">2019-11-09</text>
<line x1="571.40" x2="571.40" y1="481.3" y2="484.1" stroke="#6e7079" stroke-width="0.6"/>
<text x="571.40" y="491.9" text-anchor="middle" font-size="7.3" fill="#5c5e66">2020-11-21</text>
<line x1="622.85" x2="622.85" y1="481.3" y2="484.1" stroke="#6e7079" stroke-width="0.6"/>
<text x="622.85" y="491.9" text-anchor="middle" font-size="7.3" fill="#5c5e66">2021-12-04</text>
<line x1="674.30" x2="674.30" y1="481.3" y2="484.1" stroke="#6e7079" stroke-width="0.6"/>
<text x="674.30" y="491.9" text-anchor="middle" font-size="7.3" fill="#5c5e66">2022-12-17</text>
<line x1="725.75" x2="725.75" y1="481.3" y2="484.1" stroke="#6e7079" stroke-width="0.6"/>
<text x="725.75" y="491.9" text-anchor="middle" font-size="7.3" fill="#5c5e66">2023-12-30</text>
<line x1="777.20" x2="777.20" y1="481.3" y2="484.1" stroke="#6e7079" stroke-width="0.6"/>
<text x="777.20" y="491.9" text-anchor="middle" font-size="7.3" fill="#5c5e66">2025-01-11</text>
<text x="52.2" y="36.80" text-anchor="end" font-size="7.0" fill="#3c3c3c">1,000,000</text>
<text x="818.2" y="36.80" font-size="7.0" fill="#ee6f7a">0.8</text>
<text x="862" y="36.80" font-size="7.0" fill="#a3d38b">4,000,000</text>
<text x="52.2" y="92.66" text-anchor="end" font-size="7.0" fill="#3c3c3c">100,000</text>
<text x="818.2" y="92.66" font-size="7.0" fill="#ee6f7a">0.7</text>
<text x="862" y="92.66" font-size="7.0" fill="#a3d38b">3,500,000</text>
<text x="52.2" y="148.53" text-anchor="end" font-size="7.0" fill="#3c3c3c">10,000</text>
<text x="818.2" y="148.53" font-size="7.0" fill="#ee6f7a">0.6</text>
<text x="862" y="148.53" font-size="7.0" fill="#a3d38b">3,000,000</text>
<text x="52.2" y="204.39" text-anchor="end" font-size="7.0" fill="#3c3c3c">1,000</text>
<text x="818.2" y="204.39" font-size="7.0" fill="#ee6f7a">0.5</text>
<text x="862" y="204.39" font-size="7.0" fill="#a3d38b">2,500,000</text>
<text x="52.2" y="260.25" text-anchor="end" font-size="7.0" fill="#3c3c3c">100</text>
<text x="818.2" y="260.25" font-size="7.0" fill="#ee6f7a">0.4</text>
<text x="862" y="260.25" font-size="7.0" fill="#a3d38b">2,000,000</text>
<text x="52.2" y="316.11" text-anchor="end" font-size="7.0" fill="#3c3c3c">10</text>
<text x="818.2" y="316.11" font-size="7.0" fill="#ee6f7a">0.3</text>
<text x="862" y="316.11" font-size="7.0" fill="#a3d38b">1,500,000</text>
<text x="52.2" y="371.97" text-anchor="end" font-size="7.0" fill="#3c3c3c">1</text>
<text x="818.2" y="371.97" font-size="7.0" fill="#ee6f7a">0.2</text>
<text x="862" y="371.97" font-size="7.0" fill="#a3d38b">1,000,000</text>
<text x="52.2" y="427.84" text-anchor="end" font-size="7.0" fill="#3c3c3c">0.1</text>
<text x="818.2" y="427.84" font-size="7.0" fill="#ee6f7a">0.1</text>
<text x="862" y="427.84" font-size="7.0" fill="#a3d38b">500,000</text>
<text x="52.2" y="483.70" text-anchor="end" font-size="7.0" fill="#3c3c3c">0.01</text>
<text x="818.2" y="483.70" font-size="7.0" fill="#ee6f7a">0</text>
<text x="862" y="483.70" font-size="7.0" fill="#a3d38b">0</text>
<text x="56.5" y="25.7" text-anchor="middle" font-size="7.0" fill="#3c3c3c">Price</text>
<text x="434.8" y="13.1" text-anchor="middle" font-size="10.3" fill="#464646" stroke="#464646" stroke-width="0.42" textLength="146" lengthAdjust="spacingAndGlyphs">Cumulative LTH Realized Profit</text>
<line x1="85.6" x2="99.2" y1="8" y2="8" stroke="#000" stroke-width="1.3"/>
<circle cx="92.4" cy="8" r="3.0" fill="#fff" stroke="#000" stroke-width="1.3"/>
<text x="101.8" y="10.6" font-size="7.0" fill="#3c3c3c">Price</text>
<line x1="85.6" x2="99.2" y1="20.6" y2="20.6" stroke="#ff8c00" stroke-width="0.9"/>
<circle cx="92.4" cy="20.6" r="3.0" fill="#fff" stroke="#ff8c00" stroke-width="0.9"/>
<text x="101.8" y="23.200000000000003" font-size="7.0" fill="#3c3c3c">LTH Realized Cap (%)</text>
<rect x="85.6" y="30.199999999999996" width="13.6" height="7.2" rx="1.6" fill="#ff8c00"/>
<text x="101.8" y="36.4" font-size="7.0" fill="#3c3c3c">Cycle 1 LTH Realized Profit</text>
<rect x="85.6" y="43.3" width="13.6" height="7.2" rx="1.6" fill="#ff6b6b"/>
<text x="101.8" y="49.5" font-size="7.0" fill="#3c3c3c">Cycle 2 LTH Realized Profit</text>
<rect x="85.6" y="56.4" width="13.6" height="7.2" rx="1.6" fill="#4d8cf6"/>
<text x="101.8" y="62.6" font-size="7.0" fill="#3c3c3c">Cycle 3 LTH Realized Profit</text>
<rect x="85.6" y="69.5" width="13.6" height="7.2" rx="1.6" fill="#23b14d"/>
<text x="101.8" y="75.69999999999999" font-size="7.0" fill="#3c3c3c">Cycle 4 LTH Realized Profit</text>
<rect x="85.6" y="82.7" width="13.6" height="7.2" rx="1.6" fill="#000"/>
<text x="101.8" y="88.89999999999999" font-size="7.0" fill="#3c3c3c">Cycle 5 LTH Realized Profit</text>
<circle cx="56.4" cy="174.3" r="0.9" fill="#fff" stroke="#ff8c00" stroke-width="0.6"/>
<circle cx="56.4" cy="441.6" r="0.9" fill="#fff" stroke="#000" stroke-width="0.7"/>
<circle cx="571.5" cy="218.3" r="0.9" fill="#fff" stroke="#ff8c00" stroke-width="0.6"/>
<circle cx="776.3" cy="245.8" r="0.9" fill="#fff" stroke="#ff8c00" stroke-width="0.6"/>
<circle cx="211.3" cy="425.8" r="0.9" fill="#fff" stroke="#ff8c00" stroke-width="0.6"/>
<circle cx="159.4" cy="213.6" r="0.9" fill="#fff" stroke="#ff8c00" stroke-width="0.6"/>
<rect x="57" y="502" width="757.5" height="17.3" fill="#e9edfb" stroke="#dde3f6" stroke-width="0.5"/>
<polygon points="57.00,519.30 57.00,518.90 330.00,518.90 380.00,518.70 405.00,518.30 418.00,517.60 425.00,516.90 432.00,517.80 445.00,518.00 470.00,518.20 520.00,518.20 560.00,517.50 570.00,516.40 581.00,514.60 590.00,515.20 599.00,515.40 610.00,514.40 619.70,513.90 628.00,515.00 646.60,516.90 679.00,517.50 700.00,517.00 715.00,516.30 728.00,514.60 739.00,513.30 750.00,513.80 763.00,513.30 770.00,511.40 775.00,510.30 786.00,510.60 799.00,509.40 806.00,508.90 813.90,508.00 813.90,519.30" fill="#d6ddf8"/>
<polyline points="57.00,518.90 330.00,518.90 380.00,518.70 405.00,518.30 418.00,517.60 425.00,516.90 432.00,517.80 445.00,518.00 470.00,518.20 520.00,518.20 560.00,517.50 570.00,516.40 581.00,514.60 590.00,515.20 599.00,515.40 610.00,514.40 619.70,513.90 628.00,515.00 646.60,516.90 679.00,517.50 700.00,517.00 715.00,516.30 728.00,514.60 739.00,513.30 750.00,513.80 763.00,513.30 770.00,511.40 775.00,510.30 786.00,510.60 799.00,509.40 806.00,508.90 813.90,508.00" fill="none" stroke="#c3cdf5" stroke-width="0.5"/>
<rect x="56.2" y="506.4" width="2.4" height="11" rx="1" fill="#fff" stroke="#c9d2f3" stroke-width="0.6"/>
<rect x="813.6" y="508" width="2.6" height="11" rx="1" fill="#fff" stroke="#c9d2f3" stroke-width="0.6"/>
</svg></body></html>
